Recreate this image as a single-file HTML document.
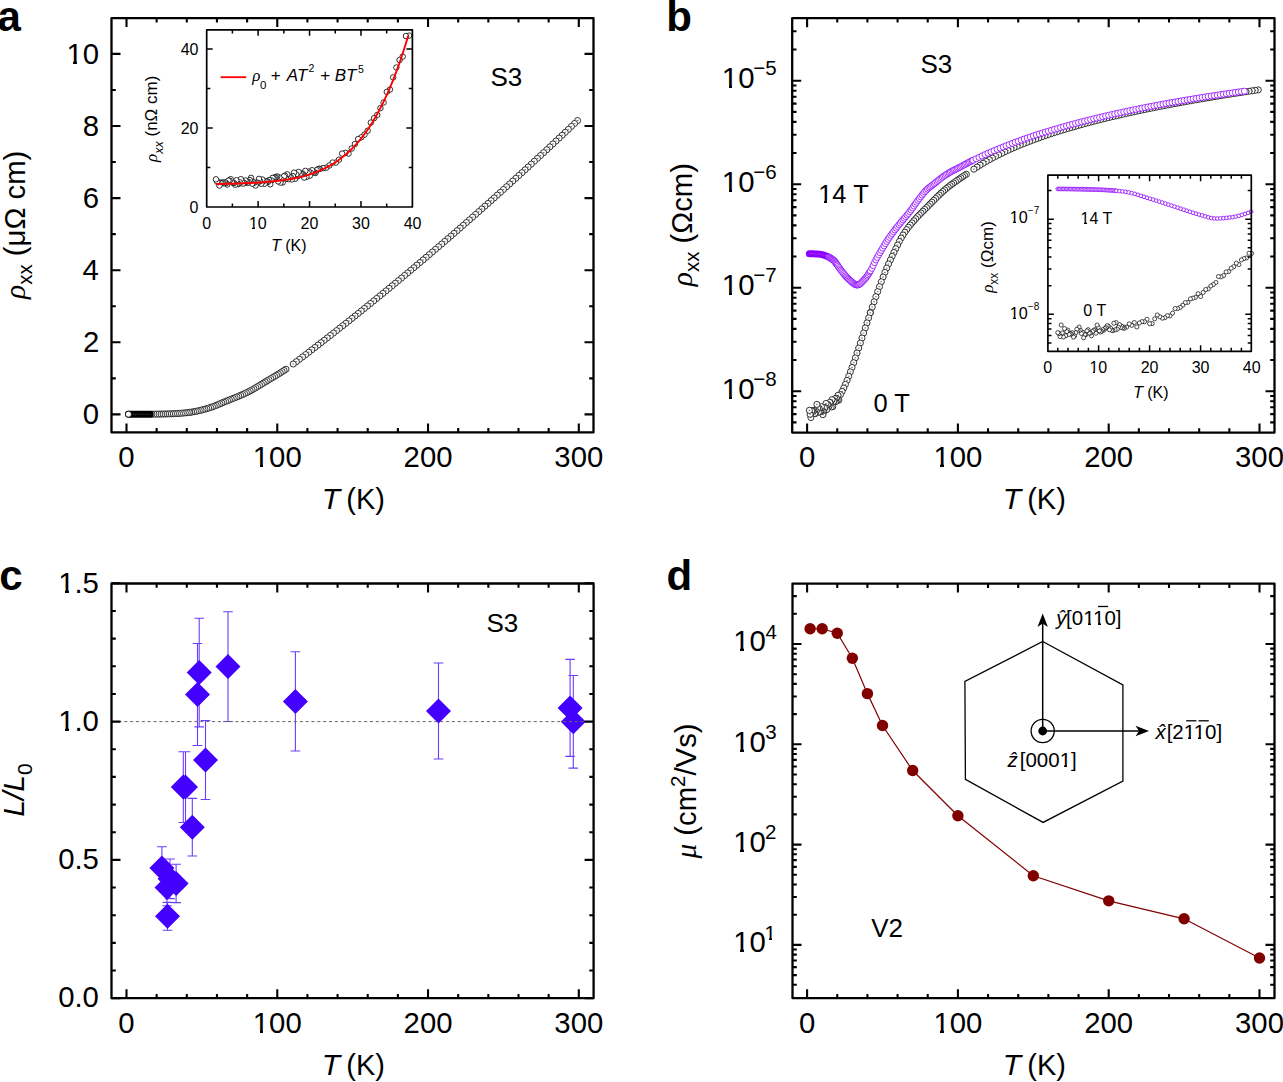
<!DOCTYPE html>
<html><head><meta charset="utf-8"><style>html,body{margin:0;padding:0;background:#fff;}svg{display:block;font-family:"Liberation Sans",sans-serif;}</style></head><body>
<svg width="1283" height="1082" viewBox="0 0 1283 1082">
<rect width="1283" height="1082" fill="#fff"/>
<text x="-2.56" y="30.6" font-size="42" font-weight="bold">a</text>
<g fill="#fff" stroke="#111" stroke-width="0.85"><circle cx="577.6" cy="120.56" r="3.05"/><path d="M576.75 120.56h1.7" stroke="#444" stroke-width="0.75"/><circle cx="574.51" cy="123.51" r="3.05"/><path d="M573.66 123.51h1.7" stroke="#444" stroke-width="0.75"/><circle cx="571.42" cy="126.46" r="3.05"/><path d="M570.57 126.46h1.7" stroke="#444" stroke-width="0.75"/><circle cx="568.33" cy="129.39" r="3.05"/><path d="M567.48 129.39h1.7" stroke="#444" stroke-width="0.75"/><circle cx="565.24" cy="132.33" r="3.05"/><path d="M564.39 132.33h1.7" stroke="#444" stroke-width="0.75"/><circle cx="562.15" cy="135.25" r="3.05"/><path d="M561.3 135.25h1.7" stroke="#444" stroke-width="0.75"/><circle cx="559.06" cy="138.17" r="3.05"/><path d="M558.21 138.17h1.7" stroke="#444" stroke-width="0.75"/><circle cx="555.97" cy="141.08" r="3.05"/><path d="M555.12 141.08h1.7" stroke="#444" stroke-width="0.75"/><circle cx="552.88" cy="143.99" r="3.05"/><path d="M552.03 143.99h1.7" stroke="#444" stroke-width="0.75"/><circle cx="549.79" cy="146.89" r="3.05"/><path d="M548.94 146.89h1.7" stroke="#444" stroke-width="0.75"/><circle cx="546.7" cy="149.78" r="3.05"/><path d="M545.85 149.78h1.7" stroke="#444" stroke-width="0.75"/><circle cx="543.61" cy="152.66" r="3.05"/><path d="M542.76 152.66h1.7" stroke="#444" stroke-width="0.75"/><circle cx="540.51" cy="155.54" r="3.05"/><path d="M539.66 155.54h1.7" stroke="#444" stroke-width="0.75"/><circle cx="537.42" cy="158.41" r="3.05"/><path d="M536.57 158.41h1.7" stroke="#444" stroke-width="0.75"/><circle cx="534.33" cy="161.28" r="3.05"/><path d="M533.48 161.28h1.7" stroke="#444" stroke-width="0.75"/><circle cx="531.24" cy="164.14" r="3.05"/><path d="M530.39 164.14h1.7" stroke="#444" stroke-width="0.75"/><circle cx="528.15" cy="166.99" r="3.05"/><path d="M527.3 166.99h1.7" stroke="#444" stroke-width="0.75"/><circle cx="525.06" cy="169.83" r="3.05"/><path d="M524.21 169.83h1.7" stroke="#444" stroke-width="0.75"/><circle cx="521.97" cy="172.67" r="3.05"/><path d="M521.12 172.67h1.7" stroke="#444" stroke-width="0.75"/><circle cx="518.88" cy="175.5" r="3.05"/><path d="M518.03 175.5h1.7" stroke="#444" stroke-width="0.75"/><circle cx="515.79" cy="178.33" r="3.05"/><path d="M514.94 178.33h1.7" stroke="#444" stroke-width="0.75"/><circle cx="512.7" cy="181.14" r="3.05"/><path d="M511.85 181.14h1.7" stroke="#444" stroke-width="0.75"/><circle cx="509.61" cy="183.96" r="3.05"/><path d="M508.76 183.96h1.7" stroke="#444" stroke-width="0.75"/><circle cx="506.52" cy="186.76" r="3.05"/><path d="M505.67 186.76h1.7" stroke="#444" stroke-width="0.75"/><circle cx="503.42" cy="189.56" r="3.05"/><path d="M502.57 189.56h1.7" stroke="#444" stroke-width="0.75"/><circle cx="500.33" cy="192.35" r="3.05"/><path d="M499.48 192.35h1.7" stroke="#444" stroke-width="0.75"/><circle cx="497.24" cy="195.13" r="3.05"/><path d="M496.39 195.13h1.7" stroke="#444" stroke-width="0.75"/><circle cx="494.15" cy="197.91" r="3.05"/><path d="M493.3 197.91h1.7" stroke="#444" stroke-width="0.75"/><circle cx="491.06" cy="200.68" r="3.05"/><path d="M490.21 200.68h1.7" stroke="#444" stroke-width="0.75"/><circle cx="487.97" cy="203.44" r="3.05"/><path d="M487.12 203.44h1.7" stroke="#444" stroke-width="0.75"/><circle cx="484.88" cy="206.2" r="3.05"/><path d="M484.03 206.2h1.7" stroke="#444" stroke-width="0.75"/><circle cx="481.79" cy="208.95" r="3.05"/><path d="M480.94 208.95h1.7" stroke="#444" stroke-width="0.75"/><circle cx="478.7" cy="211.7" r="3.05"/><path d="M477.85 211.7h1.7" stroke="#444" stroke-width="0.75"/><circle cx="475.61" cy="214.43" r="3.05"/><path d="M474.76 214.43h1.7" stroke="#444" stroke-width="0.75"/><circle cx="472.52" cy="217.16" r="3.05"/><path d="M471.67 217.16h1.7" stroke="#444" stroke-width="0.75"/><circle cx="469.43" cy="219.89" r="3.05"/><path d="M468.58 219.89h1.7" stroke="#444" stroke-width="0.75"/><circle cx="466.34" cy="222.6" r="3.05"/><path d="M465.49 222.6h1.7" stroke="#444" stroke-width="0.75"/><circle cx="463.24" cy="225.32" r="3.05"/><path d="M462.39 225.32h1.7" stroke="#444" stroke-width="0.75"/><circle cx="460.15" cy="228.02" r="3.05"/><path d="M459.3 228.02h1.7" stroke="#444" stroke-width="0.75"/><circle cx="457.06" cy="230.72" r="3.05"/><path d="M456.21 230.72h1.7" stroke="#444" stroke-width="0.75"/><circle cx="453.97" cy="233.41" r="3.05"/><path d="M453.12 233.41h1.7" stroke="#444" stroke-width="0.75"/><circle cx="450.88" cy="236.09" r="3.05"/><path d="M450.03 236.09h1.7" stroke="#444" stroke-width="0.75"/><circle cx="447.79" cy="238.77" r="3.05"/><path d="M446.94 238.77h1.7" stroke="#444" stroke-width="0.75"/><circle cx="444.7" cy="241.44" r="3.05"/><path d="M443.85 241.44h1.7" stroke="#444" stroke-width="0.75"/><circle cx="441.61" cy="244.1" r="3.05"/><path d="M440.76 244.1h1.7" stroke="#444" stroke-width="0.75"/><circle cx="438.52" cy="246.76" r="3.05"/><path d="M437.67 246.76h1.7" stroke="#444" stroke-width="0.75"/><circle cx="435.43" cy="249.4" r="3.05"/><path d="M434.58 249.4h1.7" stroke="#444" stroke-width="0.75"/><circle cx="432.34" cy="252.05" r="3.05"/><path d="M431.49 252.05h1.7" stroke="#444" stroke-width="0.75"/><circle cx="429.25" cy="254.68" r="3.05"/><path d="M428.4 254.68h1.7" stroke="#444" stroke-width="0.75"/><circle cx="426.16" cy="257.31" r="3.05"/><path d="M425.31 257.31h1.7" stroke="#444" stroke-width="0.75"/><circle cx="423.06" cy="259.94" r="3.05"/><path d="M422.21 259.94h1.7" stroke="#444" stroke-width="0.75"/><circle cx="419.97" cy="262.55" r="3.05"/><path d="M419.12 262.55h1.7" stroke="#444" stroke-width="0.75"/><circle cx="416.88" cy="265.16" r="3.05"/><path d="M416.03 265.16h1.7" stroke="#444" stroke-width="0.75"/><circle cx="413.79" cy="267.76" r="3.05"/><path d="M412.94 267.76h1.7" stroke="#444" stroke-width="0.75"/><circle cx="410.7" cy="270.36" r="3.05"/><path d="M409.85 270.36h1.7" stroke="#444" stroke-width="0.75"/><circle cx="407.61" cy="272.95" r="3.05"/><path d="M406.76 272.95h1.7" stroke="#444" stroke-width="0.75"/><circle cx="404.52" cy="275.53" r="3.05"/><path d="M403.67 275.53h1.7" stroke="#444" stroke-width="0.75"/><circle cx="401.43" cy="278.11" r="3.05"/><path d="M400.58 278.11h1.7" stroke="#444" stroke-width="0.75"/><circle cx="398.34" cy="280.68" r="3.05"/><path d="M397.49 280.68h1.7" stroke="#444" stroke-width="0.75"/><circle cx="395.25" cy="283.24" r="3.05"/><path d="M394.4 283.24h1.7" stroke="#444" stroke-width="0.75"/><circle cx="392.16" cy="285.8" r="3.05"/><path d="M391.31 285.8h1.7" stroke="#444" stroke-width="0.75"/><circle cx="389.07" cy="288.34" r="3.05"/><path d="M388.22 288.34h1.7" stroke="#444" stroke-width="0.75"/><circle cx="385.98" cy="290.89" r="3.05"/><path d="M385.13 290.89h1.7" stroke="#444" stroke-width="0.75"/><circle cx="382.88" cy="293.42" r="3.05"/><path d="M382.03 293.42h1.7" stroke="#444" stroke-width="0.75"/><circle cx="379.79" cy="295.95" r="3.05"/><path d="M378.94 295.95h1.7" stroke="#444" stroke-width="0.75"/><circle cx="376.7" cy="298.47" r="3.05"/><path d="M375.85 298.47h1.7" stroke="#444" stroke-width="0.75"/><circle cx="373.61" cy="300.99" r="3.05"/><path d="M372.76 300.99h1.7" stroke="#444" stroke-width="0.75"/><circle cx="370.52" cy="303.5" r="3.05"/><path d="M369.67 303.5h1.7" stroke="#444" stroke-width="0.75"/><circle cx="367.43" cy="306" r="3.05"/><path d="M366.58 306h1.7" stroke="#444" stroke-width="0.75"/><circle cx="364.34" cy="308.49" r="3.05"/><path d="M363.49 308.49h1.7" stroke="#444" stroke-width="0.75"/><circle cx="361.25" cy="310.98" r="3.05"/><path d="M360.4 310.98h1.7" stroke="#444" stroke-width="0.75"/><circle cx="358.16" cy="313.46" r="3.05"/><path d="M357.31 313.46h1.7" stroke="#444" stroke-width="0.75"/><circle cx="355.07" cy="315.94" r="3.05"/><path d="M354.22 315.94h1.7" stroke="#444" stroke-width="0.75"/><circle cx="351.98" cy="318.41" r="3.05"/><path d="M351.13 318.41h1.7" stroke="#444" stroke-width="0.75"/><circle cx="348.89" cy="320.87" r="3.05"/><path d="M348.04 320.87h1.7" stroke="#444" stroke-width="0.75"/><circle cx="345.79" cy="323.32" r="3.05"/><path d="M344.94 323.32h1.7" stroke="#444" stroke-width="0.75"/><circle cx="342.7" cy="325.77" r="3.05"/><path d="M341.85 325.77h1.7" stroke="#444" stroke-width="0.75"/><circle cx="339.61" cy="328.21" r="3.05"/><path d="M338.76 328.21h1.7" stroke="#444" stroke-width="0.75"/><circle cx="336.52" cy="330.65" r="3.05"/><path d="M335.67 330.65h1.7" stroke="#444" stroke-width="0.75"/><circle cx="333.43" cy="333.08" r="3.05"/><path d="M332.58 333.08h1.7" stroke="#444" stroke-width="0.75"/><circle cx="330.34" cy="335.5" r="3.05"/><path d="M329.49 335.5h1.7" stroke="#444" stroke-width="0.75"/><circle cx="327.25" cy="337.91" r="3.05"/><path d="M326.4 337.91h1.7" stroke="#444" stroke-width="0.75"/><circle cx="324.16" cy="340.32" r="3.05"/><path d="M323.31 340.32h1.7" stroke="#444" stroke-width="0.75"/><circle cx="321.07" cy="342.72" r="3.05"/><path d="M320.22 342.72h1.7" stroke="#444" stroke-width="0.75"/><circle cx="317.98" cy="345.11" r="3.05"/><path d="M317.13 345.11h1.7" stroke="#444" stroke-width="0.75"/><circle cx="314.89" cy="347.5" r="3.05"/><path d="M314.04 347.5h1.7" stroke="#444" stroke-width="0.75"/><circle cx="311.8" cy="349.88" r="3.05"/><path d="M310.95 349.88h1.7" stroke="#444" stroke-width="0.75"/><circle cx="308.71" cy="352.26" r="3.05"/><path d="M307.86 352.26h1.7" stroke="#444" stroke-width="0.75"/><circle cx="305.61" cy="354.62" r="3.05"/><path d="M304.76 354.62h1.7" stroke="#444" stroke-width="0.75"/><circle cx="302.52" cy="356.98" r="3.05"/><path d="M301.67 356.98h1.7" stroke="#444" stroke-width="0.75"/><circle cx="299.43" cy="359.34" r="3.05"/><path d="M298.58 359.34h1.7" stroke="#444" stroke-width="0.75"/><circle cx="296.34" cy="361.69" r="3.05"/><path d="M295.49 361.69h1.7" stroke="#444" stroke-width="0.75"/><circle cx="293.25" cy="364.04" r="3.05"/><path d="M292.4 364.04h1.7" stroke="#444" stroke-width="0.75"/></g>
<g fill="#fff" stroke="#111" stroke-width="0.85"><circle cx="285.94" cy="369.23" r="3.05"/><path d="M285.09 369.23h1.7" stroke="#444" stroke-width="0.75"/><circle cx="284.05" cy="370.48" r="3.05"/><path d="M283.2 370.48h1.7" stroke="#444" stroke-width="0.75"/><circle cx="282.17" cy="371.68" r="3.05"/><path d="M281.32 371.68h1.7" stroke="#444" stroke-width="0.75"/><circle cx="280.29" cy="372.87" r="3.05"/><path d="M279.44 372.87h1.7" stroke="#444" stroke-width="0.75"/><circle cx="278.4" cy="374.04" r="3.05"/><path d="M277.55 374.04h1.7" stroke="#444" stroke-width="0.75"/><circle cx="276.52" cy="375.21" r="3.05"/><path d="M275.67 375.21h1.7" stroke="#444" stroke-width="0.75"/><circle cx="274.63" cy="376.36" r="3.05"/><path d="M273.78 376.36h1.7" stroke="#444" stroke-width="0.75"/><circle cx="272.75" cy="377.48" r="3.05"/><path d="M271.9 377.48h1.7" stroke="#444" stroke-width="0.75"/><circle cx="270.86" cy="378.6" r="3.05"/><path d="M270.01 378.6h1.7" stroke="#444" stroke-width="0.75"/><circle cx="268.98" cy="379.71" r="3.05"/><path d="M268.13 379.71h1.7" stroke="#444" stroke-width="0.75"/><circle cx="267.09" cy="380.83" r="3.05"/><path d="M266.24 380.83h1.7" stroke="#444" stroke-width="0.75"/><circle cx="265.21" cy="381.95" r="3.05"/><path d="M264.36 381.95h1.7" stroke="#444" stroke-width="0.75"/><circle cx="263.32" cy="383.1" r="3.05"/><path d="M262.47 383.1h1.7" stroke="#444" stroke-width="0.75"/><circle cx="261.44" cy="384.26" r="3.05"/><path d="M260.59 384.26h1.7" stroke="#444" stroke-width="0.75"/><circle cx="259.55" cy="385.42" r="3.05"/><path d="M258.7 385.42h1.7" stroke="#444" stroke-width="0.75"/><circle cx="257.67" cy="386.56" r="3.05"/><path d="M256.82 386.56h1.7" stroke="#444" stroke-width="0.75"/><circle cx="255.79" cy="387.69" r="3.05"/><path d="M254.94 387.69h1.7" stroke="#444" stroke-width="0.75"/><circle cx="253.9" cy="388.78" r="3.05"/><path d="M253.05 388.78h1.7" stroke="#444" stroke-width="0.75"/><circle cx="252.02" cy="389.84" r="3.05"/><path d="M251.17 389.84h1.7" stroke="#444" stroke-width="0.75"/><circle cx="250.13" cy="390.87" r="3.05"/><path d="M249.28 390.87h1.7" stroke="#444" stroke-width="0.75"/><circle cx="248.25" cy="391.85" r="3.05"/><path d="M247.4 391.85h1.7" stroke="#444" stroke-width="0.75"/><circle cx="246.36" cy="392.78" r="3.05"/><path d="M245.51 392.78h1.7" stroke="#444" stroke-width="0.75"/><circle cx="244.48" cy="393.66" r="3.05"/><path d="M243.63 393.66h1.7" stroke="#444" stroke-width="0.75"/><circle cx="242.59" cy="394.51" r="3.05"/><path d="M241.74 394.51h1.7" stroke="#444" stroke-width="0.75"/><circle cx="240.71" cy="395.32" r="3.05"/><path d="M239.86 395.32h1.7" stroke="#444" stroke-width="0.75"/><circle cx="238.82" cy="396.12" r="3.05"/><path d="M237.97 396.12h1.7" stroke="#444" stroke-width="0.75"/><circle cx="236.94" cy="396.9" r="3.05"/><path d="M236.09 396.9h1.7" stroke="#444" stroke-width="0.75"/><circle cx="235.05" cy="397.67" r="3.05"/><path d="M234.2 397.67h1.7" stroke="#444" stroke-width="0.75"/><circle cx="233.17" cy="398.44" r="3.05"/><path d="M232.32 398.44h1.7" stroke="#444" stroke-width="0.75"/><circle cx="231.29" cy="399.2" r="3.05"/><path d="M230.44 399.2h1.7" stroke="#444" stroke-width="0.75"/><circle cx="229.4" cy="399.95" r="3.05"/><path d="M228.55 399.95h1.7" stroke="#444" stroke-width="0.75"/><circle cx="227.52" cy="400.69" r="3.05"/><path d="M226.67 400.69h1.7" stroke="#444" stroke-width="0.75"/><circle cx="225.63" cy="401.44" r="3.05"/><path d="M224.78 401.44h1.7" stroke="#444" stroke-width="0.75"/><circle cx="223.75" cy="402.19" r="3.05"/><path d="M222.9 402.19h1.7" stroke="#444" stroke-width="0.75"/><circle cx="221.86" cy="402.98" r="3.05"/><path d="M221.01 402.98h1.7" stroke="#444" stroke-width="0.75"/><circle cx="219.98" cy="403.79" r="3.05"/><path d="M219.13 403.79h1.7" stroke="#444" stroke-width="0.75"/><circle cx="218.09" cy="404.61" r="3.05"/><path d="M217.24 404.61h1.7" stroke="#444" stroke-width="0.75"/><circle cx="216.21" cy="405.4" r="3.05"/><path d="M215.36 405.4h1.7" stroke="#444" stroke-width="0.75"/><circle cx="214.32" cy="406.14" r="3.05"/><path d="M213.47 406.14h1.7" stroke="#444" stroke-width="0.75"/><circle cx="212.44" cy="406.83" r="3.05"/><path d="M211.59 406.83h1.7" stroke="#444" stroke-width="0.75"/><circle cx="210.55" cy="407.46" r="3.05"/><path d="M209.7 407.46h1.7" stroke="#444" stroke-width="0.75"/><circle cx="208.67" cy="408.06" r="3.05"/><path d="M207.82 408.06h1.7" stroke="#444" stroke-width="0.75"/><circle cx="206.79" cy="408.63" r="3.05"/><path d="M205.94 408.63h1.7" stroke="#444" stroke-width="0.75"/><circle cx="204.9" cy="409.17" r="3.05"/><path d="M204.05 409.17h1.7" stroke="#444" stroke-width="0.75"/><circle cx="203.02" cy="409.69" r="3.05"/><path d="M202.17 409.69h1.7" stroke="#444" stroke-width="0.75"/><circle cx="201.13" cy="410.17" r="3.05"/><path d="M200.28 410.17h1.7" stroke="#444" stroke-width="0.75"/><circle cx="199.25" cy="410.62" r="3.05"/><path d="M198.4 410.62h1.7" stroke="#444" stroke-width="0.75"/><circle cx="197.36" cy="411.04" r="3.05"/><path d="M196.51 411.04h1.7" stroke="#444" stroke-width="0.75"/><circle cx="195.48" cy="411.41" r="3.05"/><path d="M194.63 411.41h1.7" stroke="#444" stroke-width="0.75"/><circle cx="193.59" cy="411.74" r="3.05"/><path d="M192.74 411.74h1.7" stroke="#444" stroke-width="0.75"/><circle cx="191.71" cy="412.05" r="3.05"/><path d="M190.86 412.05h1.7" stroke="#444" stroke-width="0.75"/><circle cx="189.82" cy="412.32" r="3.05"/><path d="M188.97 412.32h1.7" stroke="#444" stroke-width="0.75"/><circle cx="189.22" cy="412.4" r="3.05"/><path d="M188.37 412.4h1.7" stroke="#444" stroke-width="0.75"/><circle cx="187.26" cy="412.65" r="3.05"/><path d="M186.41 412.65h1.7" stroke="#444" stroke-width="0.75"/><circle cx="185.3" cy="412.87" r="3.05"/><path d="M184.45 412.87h1.7" stroke="#444" stroke-width="0.75"/><circle cx="183.34" cy="413.06" r="3.05"/><path d="M182.49 413.06h1.7" stroke="#444" stroke-width="0.75"/><circle cx="181.38" cy="413.22" r="3.05"/><path d="M180.53 413.22h1.7" stroke="#444" stroke-width="0.75"/><circle cx="179.42" cy="413.37" r="3.05"/><path d="M178.57 413.37h1.7" stroke="#444" stroke-width="0.75"/><circle cx="177.46" cy="413.5" r="3.05"/><path d="M176.61 413.5h1.7" stroke="#444" stroke-width="0.75"/><circle cx="175.5" cy="413.61" r="3.05"/><path d="M174.65 413.61h1.7" stroke="#444" stroke-width="0.75"/><circle cx="173.54" cy="413.7" r="3.05"/><path d="M172.69 413.7h1.7" stroke="#444" stroke-width="0.75"/><circle cx="171.58" cy="413.78" r="3.05"/><path d="M170.73 413.78h1.7" stroke="#444" stroke-width="0.75"/><circle cx="169.62" cy="413.85" r="3.05"/><path d="M168.77 413.85h1.7" stroke="#444" stroke-width="0.75"/><circle cx="167.66" cy="413.91" r="3.05"/><path d="M166.81 413.91h1.7" stroke="#444" stroke-width="0.75"/><circle cx="165.7" cy="413.96" r="3.05"/><path d="M164.85 413.96h1.7" stroke="#444" stroke-width="0.75"/><circle cx="163.74" cy="414" r="3.05"/><path d="M162.89 414h1.7" stroke="#444" stroke-width="0.75"/><circle cx="161.78" cy="414.04" r="3.05"/><path d="M160.93 414.04h1.7" stroke="#444" stroke-width="0.75"/><circle cx="159.82" cy="414.07" r="3.05"/><path d="M158.97 414.07h1.7" stroke="#444" stroke-width="0.75"/><circle cx="157.86" cy="414.09" r="3.05"/><path d="M157.01 414.09h1.7" stroke="#444" stroke-width="0.75"/><circle cx="155.9" cy="414.11" r="3.05"/><path d="M155.05 414.11h1.7" stroke="#444" stroke-width="0.75"/><circle cx="153.94" cy="414.13" r="3.05"/><path d="M153.09 414.13h1.7" stroke="#444" stroke-width="0.75"/><circle cx="151.98" cy="414.14" r="3.05"/><path d="M151.13 414.14h1.7" stroke="#444" stroke-width="0.75"/></g>
<polyline points="128.46,414.19 128.84,414.19 129.21,414.19 129.59,414.19 129.97,414.19 130.34,414.19 130.72,414.19 131.1,414.19 131.48,414.19 131.85,414.19 132.23,414.19 132.61,414.19 132.98,414.19 133.36,414.19 133.74,414.19 134.11,414.19 134.49,414.19 134.87,414.19 135.24,414.19 135.62,414.19 136,414.19 136.38,414.19 136.75,414.18 137.13,414.18 137.51,414.18 137.88,414.18 138.26,414.18 138.64,414.18 139.01,414.18 139.39,414.18 139.77,414.18 140.14,414.18 140.52,414.18 140.9,414.18 141.28,414.18 141.65,414.18 142.03,414.18 142.41,414.18 142.78,414.17 143.16,414.17 143.54,414.17 143.91,414.17 144.29,414.17 144.67,414.17 145.04,414.17 145.42,414.17 145.8,414.17 146.18,414.17 146.55,414.16 146.93,414.16 147.31,414.16 147.68,414.16 148.06,414.16 148.44,414.16 148.81,414.16 149.19,414.15 149.57,414.15 149.94,414.15 150.32,414.15" fill="none" stroke="#000" stroke-width="6.95" stroke-linecap="round" stroke-linejoin="round"/>
<polyline points="128.84,414.19 129.21,414.19 129.59,414.19 129.97,414.19 130.34,414.19 130.72,414.19 131.1,414.19 131.48,414.19 131.85,414.19 132.23,414.19 132.61,414.19 132.98,414.19 133.36,414.19 133.74,414.19 134.11,414.19 134.49,414.19 134.87,414.19 135.24,414.19 135.62,414.19 136,414.19 136.38,414.19 136.75,414.18 137.13,414.18 137.51,414.18 137.88,414.18 138.26,414.18 138.64,414.18 139.01,414.18 139.39,414.18 139.77,414.18 140.14,414.18 140.52,414.18 140.9,414.18 141.28,414.18 141.65,414.18 142.03,414.18 142.41,414.18 142.78,414.17 143.16,414.17 143.54,414.17 143.91,414.17 144.29,414.17 144.67,414.17 145.04,414.17 145.42,414.17 145.8,414.17 146.18,414.17 146.55,414.16 146.93,414.16 147.31,414.16 147.68,414.16 148.06,414.16 148.44,414.16 148.81,414.16 149.19,414.15 149.57,414.15 149.94,414.15 150.32,414.15" fill="none" stroke="#fff" stroke-opacity="0.75" stroke-width="0.6" stroke-dasharray="0.7 1.3"/>
<g fill="#fff" stroke="#000" stroke-width="0.85"><circle cx="128.46" cy="414.19" r="3.05"/></g>
<path d="M126.5 432.4V423.4M126.5 18.1V27.1M277.27 432.4V423.4M277.27 18.1V27.1M428.04 432.4V423.4M428.04 18.1V27.1M578.81 432.4V423.4M578.81 18.1V27.1M156.65 432.4V428.1M156.65 18.1V22.4M186.81 432.4V428.1M186.81 18.1V22.4M216.96 432.4V428.1M216.96 18.1V22.4M247.12 432.4V428.1M247.12 18.1V22.4M307.42 432.4V428.1M307.42 18.1V22.4M337.58 432.4V428.1M337.58 18.1V22.4M367.73 432.4V428.1M367.73 18.1V22.4M397.89 432.4V428.1M397.89 18.1V22.4M458.19 432.4V428.1M458.19 18.1V22.4M488.35 432.4V428.1M488.35 18.1V22.4M518.5 432.4V428.1M518.5 18.1V22.4M548.66 432.4V428.1M548.66 18.1V22.4M111.5 414.4H120.5M593.5 414.4H584.5M111.5 342.3H120.5M593.5 342.3H584.5M111.5 270.2H120.5M593.5 270.2H584.5M111.5 198.1H120.5M593.5 198.1H584.5M111.5 126H120.5M593.5 126H584.5M111.5 53.9H120.5M593.5 53.9H584.5M111.5 378.35H115.8M593.5 378.35H589.2M111.5 306.25H115.8M593.5 306.25H589.2M111.5 234.15H115.8M593.5 234.15H589.2M111.5 162.05H115.8M593.5 162.05H589.2M111.5 89.95H115.8M593.5 89.95H589.2" stroke="#000" stroke-width="2.1" fill="none"/>
<rect x="111.5" y="18.1" width="482" height="414.3" fill="none" stroke="#000" stroke-width="2.3" stroke-linejoin="round"/>
<text x="118.35" y="466.9" font-size="29.3">0</text>
<text x="252.83" y="466.9" font-size="29.3">100</text>
<g fill="#fff" shape-rendering="crispEdges"><rect x="253.85" y="463.86" width="5.84" height="3.94"/><rect x="263.28" y="463.86" width="5.22" height="3.94"/></g>
<text x="403.6" y="466.9" font-size="29.3">200</text>
<text x="554.37" y="466.9" font-size="29.3">300</text>
<text x="82.71" y="424" font-size="29.3">0</text>
<text x="83" y="351.9" font-size="29.3">2</text>
<text x="82.42" y="279.8" font-size="29.3">4</text>
<text x="82.86" y="207.7" font-size="29.3">6</text>
<text x="82.71" y="135.6" font-size="29.3">8</text>
<text x="66.45" y="63.5" font-size="29.3">10</text>
<g fill="#fff" shape-rendering="crispEdges"><rect x="67.47" y="60.46" width="5.84" height="3.94"/><rect x="76.91" y="60.46" width="5.22" height="3.94"/></g>
<text x="490.43" y="85.5" font-size="26">S3</text>
<text x="321.8" y="509" font-size="30" font-style="italic">T</text>
<text x="346.36" y="509" font-size="29">(K)</text>
<g transform="translate(25,224.8) rotate(-90)"><text x="0" y="0" font-size="29.3" text-anchor="middle"><tspan font-family='"Liberation Serif", serif' font-style="italic">ρ</tspan><tspan font-size="20.5" dy="7">xx</tspan><tspan dy="-7"> (μΩ cm)</tspan></text></g>
<rect x="206.7" y="29.8" width="205.7" height="177.2" fill="#fff"/>
<g fill="#fff" stroke="#000" stroke-width="0.8"><circle cx="409.11" cy="35.6" r="2.75"/><circle cx="405.92" cy="36.06" r="2.75"/><circle cx="402.73" cy="56.58" r="2.75"/><circle cx="399.54" cy="60.02" r="2.75"/><circle cx="396.36" cy="67.51" r="2.75"/><circle cx="393.17" cy="77.42" r="2.75"/><circle cx="389.98" cy="89.54" r="2.75"/><circle cx="386.79" cy="91.9" r="2.75"/><circle cx="383.6" cy="102.49" r="2.75"/><circle cx="380.41" cy="108.1" r="2.75"/><circle cx="377.23" cy="114.93" r="2.75"/><circle cx="374.04" cy="118.21" r="2.75"/><circle cx="370.85" cy="122.6" r="2.75"/><circle cx="367.66" cy="130.72" r="2.75"/><circle cx="364.47" cy="134.66" r="2.75"/><circle cx="361.28" cy="137.33" r="2.75"/><circle cx="358.1" cy="139.07" r="2.75"/><circle cx="354.91" cy="144.02" r="2.75"/><circle cx="351.72" cy="148.51" r="2.75"/><circle cx="348.53" cy="153.59" r="2.75"/><circle cx="345.34" cy="152.87" r="2.75"/><circle cx="342.15" cy="153.6" r="2.75"/><circle cx="338.97" cy="159.68" r="2.75"/><circle cx="335.78" cy="162.62" r="2.75"/><circle cx="332.59" cy="162.59" r="2.75"/><circle cx="329.4" cy="165.47" r="2.75"/><circle cx="326.21" cy="167.73" r="2.75"/><circle cx="323.02" cy="168.16" r="2.75"/><circle cx="319.83" cy="168.93" r="2.75"/><circle cx="318.91" cy="168.82" r="2.75"/><circle cx="317.78" cy="169.39" r="2.75"/><circle cx="316.65" cy="170.29" r="2.75"/><circle cx="315.52" cy="172.91" r="2.75"/><circle cx="314.38" cy="172.38" r="2.75"/><circle cx="313.25" cy="172.64" r="2.75"/><circle cx="312.12" cy="170.19" r="2.75"/><circle cx="310.99" cy="173.01" r="2.75"/><circle cx="309.86" cy="175.67" r="2.75"/><circle cx="308.73" cy="171.63" r="2.75"/><circle cx="307.6" cy="172.87" r="2.75"/><circle cx="306.46" cy="176.96" r="2.75"/><circle cx="305.33" cy="170.88" r="2.75"/><circle cx="304.2" cy="177.58" r="2.75"/><circle cx="303.07" cy="174.13" r="2.75"/><circle cx="301.94" cy="173.55" r="2.75"/><circle cx="300.81" cy="173.77" r="2.75"/><circle cx="299.68" cy="174.47" r="2.75"/><circle cx="298.55" cy="171.93" r="2.75"/><circle cx="297.41" cy="176.39" r="2.75"/><circle cx="296.28" cy="174.36" r="2.75"/><circle cx="295.15" cy="178.72" r="2.75"/><circle cx="294.02" cy="172.65" r="2.75"/><circle cx="292.89" cy="176.06" r="2.75"/><circle cx="291.76" cy="179.41" r="2.75"/><circle cx="290.63" cy="177.08" r="2.75"/><circle cx="289.49" cy="177.28" r="2.75"/><circle cx="288.36" cy="179.16" r="2.75"/><circle cx="287.23" cy="174.36" r="2.75"/><circle cx="286.1" cy="178.54" r="2.75"/><circle cx="284.97" cy="175.64" r="2.75"/><circle cx="283.84" cy="176.39" r="2.75"/><circle cx="282.71" cy="182.44" r="2.75"/><circle cx="281.57" cy="179.98" r="2.75"/><circle cx="280.44" cy="182.6" r="2.75"/><circle cx="279.31" cy="177.43" r="2.75"/><circle cx="278.18" cy="181.4" r="2.75"/><circle cx="277.05" cy="176.48" r="2.75"/><circle cx="275.92" cy="177.33" r="2.75"/><circle cx="274.79" cy="177.49" r="2.75"/><circle cx="273.66" cy="178.1" r="2.75"/><circle cx="272.52" cy="177.92" r="2.75"/><circle cx="271.39" cy="180.46" r="2.75"/><circle cx="270.26" cy="184.3" r="2.75"/><circle cx="269.13" cy="180.11" r="2.75"/><circle cx="268" cy="181.9" r="2.75"/><circle cx="266.87" cy="181.46" r="2.75"/><circle cx="265.74" cy="181.57" r="2.75"/><circle cx="264.6" cy="183.78" r="2.75"/><circle cx="263.47" cy="181.29" r="2.75"/><circle cx="262.34" cy="179.53" r="2.75"/><circle cx="261.21" cy="183.78" r="2.75"/><circle cx="260.08" cy="181.12" r="2.75"/><circle cx="258.95" cy="178.9" r="2.75"/><circle cx="257.82" cy="182.89" r="2.75"/><circle cx="256.69" cy="182.77" r="2.75"/><circle cx="255.55" cy="185.54" r="2.75"/><circle cx="254.42" cy="182.68" r="2.75"/><circle cx="253.29" cy="182.42" r="2.75"/><circle cx="252.16" cy="183.58" r="2.75"/><circle cx="251.03" cy="177.87" r="2.75"/><circle cx="249.9" cy="180.13" r="2.75"/><circle cx="248.77" cy="181.93" r="2.75"/><circle cx="247.63" cy="182.94" r="2.75"/><circle cx="246.5" cy="181.91" r="2.75"/><circle cx="245.37" cy="180.56" r="2.75"/><circle cx="244.24" cy="182.98" r="2.75"/><circle cx="243.11" cy="183.57" r="2.75"/><circle cx="241.98" cy="181.39" r="2.75"/><circle cx="240.85" cy="179.23" r="2.75"/><circle cx="239.71" cy="182.25" r="2.75"/><circle cx="238.58" cy="184" r="2.75"/><circle cx="237.45" cy="183.89" r="2.75"/><circle cx="236.32" cy="180.28" r="2.75"/><circle cx="235.19" cy="184.73" r="2.75"/><circle cx="234.06" cy="183.01" r="2.75"/><circle cx="232.93" cy="182.8" r="2.75"/><circle cx="231.8" cy="182.03" r="2.75"/><circle cx="230.66" cy="179.17" r="2.75"/><circle cx="229.53" cy="180.64" r="2.75"/><circle cx="228.4" cy="180.66" r="2.75"/><circle cx="227.27" cy="184.5" r="2.75"/><circle cx="226.14" cy="183.07" r="2.75"/><circle cx="225.01" cy="182.34" r="2.75"/><circle cx="223.88" cy="183.37" r="2.75"/><circle cx="222.74" cy="182.45" r="2.75"/><circle cx="221.61" cy="182.94" r="2.75"/><circle cx="220.48" cy="182.82" r="2.75"/><circle cx="219.35" cy="185.57" r="2.75"/><circle cx="218.22" cy="182.2" r="2.75"/><circle cx="217.09" cy="181.63" r="2.75"/><circle cx="215.96" cy="179.31" r="2.75"/></g>
<polyline points="215.96,183.97 217.24,183.96 218.53,183.94 219.81,183.93 221.1,183.91 222.38,183.89 223.67,183.87 224.96,183.85 226.24,183.82 227.53,183.8 228.81,183.77 230.1,183.74 231.38,183.71 232.67,183.68 233.96,183.64 235.24,183.61 236.53,183.57 237.81,183.53 239.1,183.49 240.38,183.44 241.67,183.4 242.95,183.35 244.24,183.3 245.53,183.24 246.81,183.19 248.1,183.13 249.38,183.07 250.67,183.01 251.95,182.94 253.24,182.87 254.53,182.8 255.81,182.73 257.1,182.65 258.38,182.57 259.67,182.49 260.95,182.4 262.24,182.31 263.52,182.21 264.81,182.11 266.1,182.01 267.38,181.9 268.67,181.79 269.95,181.67 271.24,181.55 272.52,181.43 273.81,181.29 275.1,181.16 276.38,181.01 277.67,180.87 278.95,180.71 280.24,180.55 281.52,180.38 282.81,180.21 284.09,180.02 285.38,179.83 286.67,179.64 287.95,179.43 289.24,179.22 290.52,178.99 291.81,178.76 293.09,178.52 294.38,178.27 295.67,178.01 296.95,177.73 298.24,177.45 299.52,177.15 300.81,176.85 302.09,176.53 303.38,176.2 304.66,175.85 305.95,175.49 307.24,175.12 308.52,174.73 309.81,174.33 311.09,173.91 312.38,173.48 313.66,173.03 314.95,172.56 316.24,172.07 317.52,171.57 318.81,171.05 320.09,170.5 321.38,169.94 322.66,169.36 323.95,168.75 325.23,168.12 326.52,167.47 327.81,166.8 329.09,166.1 330.38,165.38 331.66,164.63 332.95,163.85 334.23,163.05 335.52,162.21 336.81,161.35 338.09,160.46 339.38,159.54 340.66,158.59 341.95,157.6 343.23,156.59 344.52,155.53 345.8,154.45 347.09,153.32 348.38,152.16 349.66,150.96 350.95,149.73 352.23,148.45 353.52,147.13 354.8,145.77 356.09,144.37 357.38,142.92 358.66,141.43 359.95,139.89 361.23,138.3 362.52,136.66 363.8,134.98 365.09,133.24 366.37,131.45 367.66,129.61 368.95,127.71 370.23,125.75 371.52,123.74 372.8,121.67 374.09,119.54 375.37,117.34 376.66,115.09 377.95,112.77 379.23,110.38 380.52,107.93 381.8,105.41 383.09,102.81 384.37,100.15 385.66,97.41 386.94,94.6 388.23,91.71 389.52,88.74 390.8,85.7 392.09,82.57 393.37,79.36 394.66,76.06 395.94,72.68 397.23,69.2 398.52,65.64 399.8,61.99 401.09,58.24 402.37,54.4 403.66,50.46 404.94,46.42 406.23,42.28 407.51,38.04 408.29,35.44" fill="none" stroke="#f00" stroke-width="1.9"/>
<path d="M258.12 207V201M258.12 29.8V35.8M309.55 207V201M309.55 29.8V35.8M360.98 207V201M360.98 29.8V35.8M232.41 207V203.4M232.41 29.8V33.4M283.84 207V203.4M283.84 29.8V33.4M335.26 207V203.4M335.26 29.8V33.4M386.69 207V203.4M386.69 29.8V33.4M206.7 128H212.7M412.4 128H406.4M206.7 49H212.7M412.4 49H406.4M206.7 167.5H210.3M412.4 167.5H408.8M206.7 88.5H210.3M412.4 88.5H408.8" stroke="#000" stroke-width="1.5" fill="none"/>
<rect x="206.7" y="29.8" width="205.7" height="177.2" fill="none" stroke="#000" stroke-width="1.7" stroke-linejoin="round"/>
<text x="202.26" y="229.3" font-size="16">0</text>
<text x="248.97" y="229.3" font-size="16">10</text>
<g fill="#fff" shape-rendering="crispEdges"><rect x="249.53" y="227.25" width="2.96" height="2.95"/><rect x="254.9" y="227.25" width="2.62" height="2.95"/></g>
<text x="300.59" y="229.3" font-size="16">20</text>
<text x="352.1" y="229.3" font-size="16">30</text>
<text x="403.64" y="229.3" font-size="16">40</text>
<text x="189.56" y="212.6" font-size="16">0</text>
<text x="180.68" y="133.6" font-size="16">20</text>
<text x="180.68" y="54.6" font-size="16">40</text>
<text x="271.12" y="251" font-size="16.5" font-style="italic">T</text>
<text x="285.24" y="251" font-size="16">(K)</text>
<g transform="translate(157,118.8) rotate(-90)"><text x="0" y="0" font-size="17" text-anchor="middle"><tspan font-family='"Liberation Serif", serif' font-style="italic">ρ</tspan><tspan font-size="12.5" dy="5.5" font-style="italic">xx</tspan><tspan dy="-5.5"> (nΩ cm)</tspan></text></g>
<line x1="220.6" y1="77.2" x2="246.2" y2="77.2" stroke="#f00" stroke-width="1.8"/>
<text x="252.23" y="80.6" font-size="17" font-family='"Liberation Serif", serif' font-style="italic">ρ</text>
<text x="260.04" y="88.9" font-size="11.5">0</text>
<text x="270.85" y="80.6" font-size="17">+</text>
<text x="286.85" y="80.6" font-size="17" font-style="italic">AT</text>
<text x="308.58" y="71.8" font-size="10.5">2</text>
<text x="320.15" y="80.6" font-size="17">+</text>
<text x="334.79" y="80.6" font-size="17" font-style="italic">BT</text>
<text x="357.98" y="72.5" font-size="10.5">5</text>
<text x="666.17" y="30.9" font-size="42" font-weight="bold">b</text>
<g fill="#fff" stroke="#111" stroke-width="0.85"><circle cx="1258.29" cy="89.89" r="3.05"/><path d="M1257.44 89.89h1.7" stroke="#444" stroke-width="0.75"/><circle cx="1255.2" cy="90.34" r="3.05"/><path d="M1254.35 90.34h1.7" stroke="#444" stroke-width="0.75"/><circle cx="1252.11" cy="90.8" r="3.05"/><path d="M1251.26 90.8h1.7" stroke="#444" stroke-width="0.75"/><circle cx="1249.02" cy="91.26" r="3.05"/><path d="M1248.17 91.26h1.7" stroke="#444" stroke-width="0.75"/><circle cx="1245.93" cy="91.73" r="3.05"/><path d="M1245.08 91.73h1.7" stroke="#444" stroke-width="0.75"/><circle cx="1242.84" cy="92.2" r="3.05"/><path d="M1241.99 92.2h1.7" stroke="#444" stroke-width="0.75"/><circle cx="1239.75" cy="92.67" r="3.05"/><path d="M1238.9 92.67h1.7" stroke="#444" stroke-width="0.75"/><circle cx="1236.65" cy="93.14" r="3.05"/><path d="M1235.8 93.14h1.7" stroke="#444" stroke-width="0.75"/><circle cx="1233.56" cy="93.63" r="3.05"/><path d="M1232.71 93.63h1.7" stroke="#444" stroke-width="0.75"/><circle cx="1230.47" cy="94.11" r="3.05"/><path d="M1229.62 94.11h1.7" stroke="#444" stroke-width="0.75"/><circle cx="1227.38" cy="94.6" r="3.05"/><path d="M1226.53 94.6h1.7" stroke="#444" stroke-width="0.75"/><circle cx="1224.29" cy="95.09" r="3.05"/><path d="M1223.44 95.09h1.7" stroke="#444" stroke-width="0.75"/><circle cx="1221.2" cy="95.59" r="3.05"/><path d="M1220.35 95.59h1.7" stroke="#444" stroke-width="0.75"/><circle cx="1218.11" cy="96.09" r="3.05"/><path d="M1217.26 96.09h1.7" stroke="#444" stroke-width="0.75"/><circle cx="1215.01" cy="96.6" r="3.05"/><path d="M1214.16 96.6h1.7" stroke="#444" stroke-width="0.75"/><circle cx="1211.92" cy="97.11" r="3.05"/><path d="M1211.07 97.11h1.7" stroke="#444" stroke-width="0.75"/><circle cx="1208.83" cy="97.62" r="3.05"/><path d="M1207.98 97.62h1.7" stroke="#444" stroke-width="0.75"/><circle cx="1205.74" cy="98.14" r="3.05"/><path d="M1204.89 98.14h1.7" stroke="#444" stroke-width="0.75"/><circle cx="1202.65" cy="98.67" r="3.05"/><path d="M1201.8 98.67h1.7" stroke="#444" stroke-width="0.75"/><circle cx="1199.56" cy="99.19" r="3.05"/><path d="M1198.71 99.19h1.7" stroke="#444" stroke-width="0.75"/><circle cx="1196.47" cy="99.73" r="3.05"/><path d="M1195.62 99.73h1.7" stroke="#444" stroke-width="0.75"/><circle cx="1193.37" cy="100.27" r="3.05"/><path d="M1192.52 100.27h1.7" stroke="#444" stroke-width="0.75"/><circle cx="1190.28" cy="100.81" r="3.05"/><path d="M1189.43 100.81h1.7" stroke="#444" stroke-width="0.75"/><circle cx="1187.19" cy="101.36" r="3.05"/><path d="M1186.34 101.36h1.7" stroke="#444" stroke-width="0.75"/><circle cx="1184.1" cy="101.92" r="3.05"/><path d="M1183.25 101.92h1.7" stroke="#444" stroke-width="0.75"/><circle cx="1181.01" cy="102.48" r="3.05"/><path d="M1180.16 102.48h1.7" stroke="#444" stroke-width="0.75"/><circle cx="1177.92" cy="103.05" r="3.05"/><path d="M1177.07 103.05h1.7" stroke="#444" stroke-width="0.75"/><circle cx="1174.83" cy="103.62" r="3.05"/><path d="M1173.98 103.62h1.7" stroke="#444" stroke-width="0.75"/><circle cx="1171.73" cy="104.2" r="3.05"/><path d="M1170.88 104.2h1.7" stroke="#444" stroke-width="0.75"/><circle cx="1168.64" cy="104.79" r="3.05"/><path d="M1167.79 104.79h1.7" stroke="#444" stroke-width="0.75"/><circle cx="1165.55" cy="105.38" r="3.05"/><path d="M1164.7 105.38h1.7" stroke="#444" stroke-width="0.75"/><circle cx="1162.46" cy="105.98" r="3.05"/><path d="M1161.61 105.98h1.7" stroke="#444" stroke-width="0.75"/><circle cx="1159.37" cy="106.58" r="3.05"/><path d="M1158.52 106.58h1.7" stroke="#444" stroke-width="0.75"/><circle cx="1156.28" cy="107.19" r="3.05"/><path d="M1155.43 107.19h1.7" stroke="#444" stroke-width="0.75"/><circle cx="1153.19" cy="107.81" r="3.05"/><path d="M1152.34 107.81h1.7" stroke="#444" stroke-width="0.75"/><circle cx="1150.09" cy="108.43" r="3.05"/><path d="M1149.24 108.43h1.7" stroke="#444" stroke-width="0.75"/><circle cx="1147" cy="109.07" r="3.05"/><path d="M1146.15 109.07h1.7" stroke="#444" stroke-width="0.75"/><circle cx="1143.91" cy="109.71" r="3.05"/><path d="M1143.06 109.71h1.7" stroke="#444" stroke-width="0.75"/><circle cx="1140.82" cy="110.35" r="3.05"/><path d="M1139.97 110.35h1.7" stroke="#444" stroke-width="0.75"/><circle cx="1137.73" cy="111.01" r="3.05"/><path d="M1136.88 111.01h1.7" stroke="#444" stroke-width="0.75"/><circle cx="1134.64" cy="111.67" r="3.05"/><path d="M1133.79 111.67h1.7" stroke="#444" stroke-width="0.75"/><circle cx="1131.55" cy="112.34" r="3.05"/><path d="M1130.7 112.34h1.7" stroke="#444" stroke-width="0.75"/><circle cx="1128.45" cy="113.02" r="3.05"/><path d="M1127.6 113.02h1.7" stroke="#444" stroke-width="0.75"/><circle cx="1125.36" cy="113.71" r="3.05"/><path d="M1124.51 113.71h1.7" stroke="#444" stroke-width="0.75"/><circle cx="1122.27" cy="114.41" r="3.05"/><path d="M1121.42 114.41h1.7" stroke="#444" stroke-width="0.75"/><circle cx="1119.18" cy="115.12" r="3.05"/><path d="M1118.33 115.12h1.7" stroke="#444" stroke-width="0.75"/><circle cx="1116.09" cy="115.83" r="3.05"/><path d="M1115.24 115.83h1.7" stroke="#444" stroke-width="0.75"/><circle cx="1113" cy="116.56" r="3.05"/><path d="M1112.15 116.56h1.7" stroke="#444" stroke-width="0.75"/><circle cx="1109.91" cy="117.29" r="3.05"/><path d="M1109.06 117.29h1.7" stroke="#444" stroke-width="0.75"/><circle cx="1106.81" cy="118.04" r="3.05"/><path d="M1105.96 118.04h1.7" stroke="#444" stroke-width="0.75"/><circle cx="1103.72" cy="118.8" r="3.05"/><path d="M1102.87 118.8h1.7" stroke="#444" stroke-width="0.75"/><circle cx="1100.63" cy="119.56" r="3.05"/><path d="M1099.78 119.56h1.7" stroke="#444" stroke-width="0.75"/><circle cx="1097.54" cy="120.34" r="3.05"/><path d="M1096.69 120.34h1.7" stroke="#444" stroke-width="0.75"/><circle cx="1094.45" cy="121.13" r="3.05"/><path d="M1093.6 121.13h1.7" stroke="#444" stroke-width="0.75"/><circle cx="1091.36" cy="121.94" r="3.05"/><path d="M1090.51 121.94h1.7" stroke="#444" stroke-width="0.75"/><circle cx="1088.27" cy="122.75" r="3.05"/><path d="M1087.42 122.75h1.7" stroke="#444" stroke-width="0.75"/><circle cx="1085.18" cy="123.58" r="3.05"/><path d="M1084.33 123.58h1.7" stroke="#444" stroke-width="0.75"/><circle cx="1082.08" cy="124.42" r="3.05"/><path d="M1081.23 124.42h1.7" stroke="#444" stroke-width="0.75"/><circle cx="1078.99" cy="125.28" r="3.05"/><path d="M1078.14 125.28h1.7" stroke="#444" stroke-width="0.75"/><circle cx="1075.9" cy="126.15" r="3.05"/><path d="M1075.05 126.15h1.7" stroke="#444" stroke-width="0.75"/><circle cx="1072.81" cy="127.03" r="3.05"/><path d="M1071.96 127.03h1.7" stroke="#444" stroke-width="0.75"/><circle cx="1069.72" cy="127.93" r="3.05"/><path d="M1068.87 127.93h1.7" stroke="#444" stroke-width="0.75"/><circle cx="1066.63" cy="128.85" r="3.05"/><path d="M1065.78 128.85h1.7" stroke="#444" stroke-width="0.75"/><circle cx="1063.54" cy="129.78" r="3.05"/><path d="M1062.69 129.78h1.7" stroke="#444" stroke-width="0.75"/><circle cx="1060.44" cy="130.73" r="3.05"/><path d="M1059.59 130.73h1.7" stroke="#444" stroke-width="0.75"/><circle cx="1057.35" cy="131.7" r="3.05"/><path d="M1056.5 131.7h1.7" stroke="#444" stroke-width="0.75"/><circle cx="1054.26" cy="132.68" r="3.05"/><path d="M1053.41 132.68h1.7" stroke="#444" stroke-width="0.75"/><circle cx="1051.17" cy="133.69" r="3.05"/><path d="M1050.32 133.69h1.7" stroke="#444" stroke-width="0.75"/><circle cx="1048.08" cy="134.71" r="3.05"/><path d="M1047.23 134.71h1.7" stroke="#444" stroke-width="0.75"/><circle cx="1044.99" cy="135.76" r="3.05"/><path d="M1044.14 135.76h1.7" stroke="#444" stroke-width="0.75"/><circle cx="1041.9" cy="136.83" r="3.05"/><path d="M1041.05 136.83h1.7" stroke="#444" stroke-width="0.75"/><circle cx="1038.8" cy="137.92" r="3.05"/><path d="M1037.95 137.92h1.7" stroke="#444" stroke-width="0.75"/><circle cx="1035.71" cy="139.04" r="3.05"/><path d="M1034.86 139.04h1.7" stroke="#444" stroke-width="0.75"/><circle cx="1032.62" cy="140.18" r="3.05"/><path d="M1031.77 140.18h1.7" stroke="#444" stroke-width="0.75"/><circle cx="1029.53" cy="141.35" r="3.05"/><path d="M1028.68 141.35h1.7" stroke="#444" stroke-width="0.75"/><circle cx="1026.44" cy="142.54" r="3.05"/><path d="M1025.59 142.54h1.7" stroke="#444" stroke-width="0.75"/><circle cx="1023.35" cy="143.77" r="3.05"/><path d="M1022.5 143.77h1.7" stroke="#444" stroke-width="0.75"/><circle cx="1020.26" cy="145.02" r="3.05"/><path d="M1019.41 145.02h1.7" stroke="#444" stroke-width="0.75"/><circle cx="1017.16" cy="146.31" r="3.05"/><path d="M1016.31 146.31h1.7" stroke="#444" stroke-width="0.75"/><circle cx="1014.07" cy="147.63" r="3.05"/><path d="M1013.22 147.63h1.7" stroke="#444" stroke-width="0.75"/><circle cx="1010.98" cy="148.99" r="3.05"/><path d="M1010.13 148.99h1.7" stroke="#444" stroke-width="0.75"/><circle cx="1007.89" cy="150.39" r="3.05"/><path d="M1007.04 150.39h1.7" stroke="#444" stroke-width="0.75"/><circle cx="1004.8" cy="151.82" r="3.05"/><path d="M1003.95 151.82h1.7" stroke="#444" stroke-width="0.75"/><circle cx="1001.71" cy="153.31" r="3.05"/><path d="M1000.86 153.31h1.7" stroke="#444" stroke-width="0.75"/><circle cx="998.62" cy="154.83" r="3.05"/><path d="M997.77 154.83h1.7" stroke="#444" stroke-width="0.75"/><circle cx="995.52" cy="156.41" r="3.05"/><path d="M994.67 156.41h1.7" stroke="#444" stroke-width="0.75"/><circle cx="992.43" cy="158.04" r="3.05"/><path d="M991.58 158.04h1.7" stroke="#444" stroke-width="0.75"/><circle cx="989.34" cy="159.72" r="3.05"/><path d="M988.49 159.72h1.7" stroke="#444" stroke-width="0.75"/><circle cx="986.25" cy="161.47" r="3.05"/><path d="M985.4 161.47h1.7" stroke="#444" stroke-width="0.75"/><circle cx="983.16" cy="163.28" r="3.05"/><path d="M982.31 163.28h1.7" stroke="#444" stroke-width="0.75"/><circle cx="980.07" cy="165.16" r="3.05"/><path d="M979.22 165.16h1.7" stroke="#444" stroke-width="0.75"/><circle cx="976.98" cy="167.12" r="3.05"/><path d="M976.13 167.12h1.7" stroke="#444" stroke-width="0.75"/><circle cx="973.88" cy="169.17" r="3.05"/><path d="M973.03 169.17h1.7" stroke="#444" stroke-width="0.75"/></g>
<g fill="#fff" stroke="#111" stroke-width="0.85"><circle cx="966.34" cy="174.22" r="3.05"/><path d="M965.49 174.22h1.7" stroke="#444" stroke-width="0.75"/><circle cx="964.54" cy="175.42" r="3.05"/><path d="M963.69 175.42h1.7" stroke="#444" stroke-width="0.75"/><circle cx="962.73" cy="176.62" r="3.05"/><path d="M961.88 176.62h1.7" stroke="#444" stroke-width="0.75"/><circle cx="960.92" cy="177.83" r="3.05"/><path d="M960.07 177.83h1.7" stroke="#444" stroke-width="0.75"/><circle cx="959.11" cy="179.07" r="3.05"/><path d="M958.26 179.07h1.7" stroke="#444" stroke-width="0.75"/><circle cx="957.3" cy="180.34" r="3.05"/><path d="M956.45 180.34h1.7" stroke="#444" stroke-width="0.75"/><circle cx="955.49" cy="181.62" r="3.05"/><path d="M954.64 181.62h1.7" stroke="#444" stroke-width="0.75"/><circle cx="953.68" cy="182.92" r="3.05"/><path d="M952.83 182.92h1.7" stroke="#444" stroke-width="0.75"/><circle cx="951.87" cy="184.23" r="3.05"/><path d="M951.02 184.23h1.7" stroke="#444" stroke-width="0.75"/><circle cx="950.06" cy="185.58" r="3.05"/><path d="M949.21 185.58h1.7" stroke="#444" stroke-width="0.75"/><circle cx="948.25" cy="186.98" r="3.05"/><path d="M947.4 186.98h1.7" stroke="#444" stroke-width="0.75"/><circle cx="946.44" cy="188.44" r="3.05"/><path d="M945.59 188.44h1.7" stroke="#444" stroke-width="0.75"/><circle cx="944.63" cy="189.96" r="3.05"/><path d="M943.78 189.96h1.7" stroke="#444" stroke-width="0.75"/><circle cx="942.82" cy="191.56" r="3.05"/><path d="M941.97 191.56h1.7" stroke="#444" stroke-width="0.75"/><circle cx="941.01" cy="193.22" r="3.05"/><path d="M940.16 193.22h1.7" stroke="#444" stroke-width="0.75"/><circle cx="939.2" cy="194.94" r="3.05"/><path d="M938.35 194.94h1.7" stroke="#444" stroke-width="0.75"/><circle cx="937.39" cy="196.7" r="3.05"/><path d="M936.54 196.7h1.7" stroke="#444" stroke-width="0.75"/><circle cx="935.58" cy="198.5" r="3.05"/><path d="M934.73 198.5h1.7" stroke="#444" stroke-width="0.75"/><circle cx="933.77" cy="200.31" r="3.05"/><path d="M932.92 200.31h1.7" stroke="#444" stroke-width="0.75"/><circle cx="931.96" cy="202.15" r="3.05"/><path d="M931.11 202.15h1.7" stroke="#444" stroke-width="0.75"/><circle cx="930.15" cy="203.98" r="3.05"/><path d="M929.3 203.98h1.7" stroke="#444" stroke-width="0.75"/><circle cx="928.34" cy="205.81" r="3.05"/><path d="M927.49 205.81h1.7" stroke="#444" stroke-width="0.75"/><circle cx="926.53" cy="207.62" r="3.05"/><path d="M925.68 207.62h1.7" stroke="#444" stroke-width="0.75"/><circle cx="924.72" cy="209.42" r="3.05"/><path d="M923.87 209.42h1.7" stroke="#444" stroke-width="0.75"/><circle cx="922.91" cy="211.22" r="3.05"/><path d="M922.06 211.22h1.7" stroke="#444" stroke-width="0.75"/><circle cx="921.1" cy="213.04" r="3.05"/><path d="M920.25 213.04h1.7" stroke="#444" stroke-width="0.75"/><circle cx="919.3" cy="214.88" r="3.05"/><path d="M918.45 214.88h1.7" stroke="#444" stroke-width="0.75"/><circle cx="917.49" cy="216.77" r="3.05"/><path d="M916.64 216.77h1.7" stroke="#444" stroke-width="0.75"/><circle cx="915.68" cy="218.72" r="3.05"/><path d="M914.83 218.72h1.7" stroke="#444" stroke-width="0.75"/><circle cx="913.87" cy="220.74" r="3.05"/><path d="M913.02 220.74h1.7" stroke="#444" stroke-width="0.75"/><circle cx="912.06" cy="222.85" r="3.05"/><path d="M911.21 222.85h1.7" stroke="#444" stroke-width="0.75"/><circle cx="910.25" cy="225.01" r="3.05"/><path d="M909.4 225.01h1.7" stroke="#444" stroke-width="0.75"/><circle cx="908.44" cy="227.27" r="3.05"/><path d="M907.59 227.27h1.7" stroke="#444" stroke-width="0.75"/><circle cx="906.63" cy="229.65" r="3.05"/><path d="M905.78 229.65h1.7" stroke="#444" stroke-width="0.75"/><circle cx="904.82" cy="232.21" r="3.05"/><path d="M903.97 232.21h1.7" stroke="#444" stroke-width="0.75"/><circle cx="903.01" cy="234.99" r="3.05"/><path d="M902.16 234.99h1.7" stroke="#444" stroke-width="0.75"/><circle cx="901.2" cy="238.09" r="3.05"/><path d="M900.35 238.09h1.7" stroke="#444" stroke-width="0.75"/><circle cx="899.39" cy="241.46" r="3.05"/><path d="M898.54 241.46h1.7" stroke="#444" stroke-width="0.75"/><circle cx="897.58" cy="245.03" r="3.05"/><path d="M896.73 245.03h1.7" stroke="#444" stroke-width="0.75"/><circle cx="895.77" cy="248.72" r="3.05"/><path d="M894.92 248.72h1.7" stroke="#444" stroke-width="0.75"/><circle cx="893.96" cy="252.48" r="3.05"/><path d="M893.11 252.48h1.7" stroke="#444" stroke-width="0.75"/><circle cx="892.15" cy="256.23" r="3.05"/><path d="M891.3 256.23h1.7" stroke="#444" stroke-width="0.75"/><circle cx="890.34" cy="260.06" r="3.05"/><path d="M889.49 260.06h1.7" stroke="#444" stroke-width="0.75"/><circle cx="888.53" cy="264.02" r="3.05"/><path d="M887.68 264.02h1.7" stroke="#444" stroke-width="0.75"/><circle cx="886.72" cy="268.14" r="3.05"/><path d="M885.87 268.14h1.7" stroke="#444" stroke-width="0.75"/><circle cx="884.91" cy="272.46" r="3.05"/><path d="M884.06 272.46h1.7" stroke="#444" stroke-width="0.75"/><circle cx="883.1" cy="277.01" r="3.05"/><path d="M882.25 277.01h1.7" stroke="#444" stroke-width="0.75"/><circle cx="881.29" cy="281.76" r="3.05"/><path d="M880.44 281.76h1.7" stroke="#444" stroke-width="0.75"/><circle cx="879.48" cy="286.66" r="3.05"/><path d="M878.63 286.66h1.7" stroke="#444" stroke-width="0.75"/><circle cx="877.67" cy="291.65" r="3.05"/><path d="M876.82 291.65h1.7" stroke="#444" stroke-width="0.75"/><circle cx="875.86" cy="296.69" r="3.05"/><path d="M875.01 296.69h1.7" stroke="#444" stroke-width="0.75"/><circle cx="874.06" cy="301.83" r="3.05"/><path d="M873.21 301.83h1.7" stroke="#444" stroke-width="0.75"/><circle cx="872.25" cy="307.07" r="3.05"/><path d="M871.4 307.07h1.7" stroke="#444" stroke-width="0.75"/><circle cx="870.44" cy="312.41" r="3.05"/><path d="M869.59 312.41h1.7" stroke="#444" stroke-width="0.75"/><circle cx="870.29" cy="312.86" r="3.05"/><path d="M869.44 312.86h1.7" stroke="#444" stroke-width="0.75"/><circle cx="868.63" cy="317.86" r="3.05"/><path d="M867.78 317.86h1.7" stroke="#444" stroke-width="0.75"/><circle cx="866.97" cy="322.9" r="3.05"/><path d="M866.12 322.9h1.7" stroke="#444" stroke-width="0.75"/><circle cx="865.31" cy="327.93" r="3.05"/><path d="M864.46 327.93h1.7" stroke="#444" stroke-width="0.75"/><circle cx="863.65" cy="332.97" r="3.05"/><path d="M862.8 332.97h1.7" stroke="#444" stroke-width="0.75"/><circle cx="861.99" cy="338.02" r="3.05"/><path d="M861.14 338.02h1.7" stroke="#444" stroke-width="0.75"/><circle cx="860.33" cy="343.05" r="3.05"/><path d="M859.48 343.05h1.7" stroke="#444" stroke-width="0.75"/><circle cx="858.67" cy="348.06" r="3.05"/><path d="M857.82 348.06h1.7" stroke="#444" stroke-width="0.75"/><circle cx="857.01" cy="353.02" r="3.05"/><path d="M856.16 353.02h1.7" stroke="#444" stroke-width="0.75"/><circle cx="855.36" cy="357.9" r="3.05"/><path d="M854.51 357.9h1.7" stroke="#444" stroke-width="0.75"/><circle cx="853.7" cy="362.7" r="3.05"/><path d="M852.85 362.7h1.7" stroke="#444" stroke-width="0.75"/><circle cx="852.04" cy="367.37" r="3.05"/><path d="M851.19 367.37h1.7" stroke="#444" stroke-width="0.75"/><circle cx="850.38" cy="371.9" r="3.05"/><path d="M849.53 371.9h1.7" stroke="#444" stroke-width="0.75"/><circle cx="848.72" cy="376.26" r="3.05"/><path d="M847.87 376.26h1.7" stroke="#444" stroke-width="0.75"/><circle cx="847.06" cy="380.42" r="3.05"/><path d="M846.21 380.42h1.7" stroke="#444" stroke-width="0.75"/><circle cx="845.4" cy="384.35" r="3.05"/><path d="M844.55 384.35h1.7" stroke="#444" stroke-width="0.75"/><circle cx="843.74" cy="388.04" r="3.05"/><path d="M842.89 388.04h1.7" stroke="#444" stroke-width="0.75"/><circle cx="842.09" cy="391.47" r="3.05"/><path d="M841.24 391.47h1.7" stroke="#444" stroke-width="0.75"/><circle cx="840.43" cy="394.62" r="3.05"/><path d="M839.58 394.62h1.7" stroke="#444" stroke-width="0.75"/><circle cx="838.77" cy="400.17" r="3.05"/><path d="M837.92 400.17h1.7" stroke="#444" stroke-width="0.75"/><circle cx="838.01" cy="395.34" r="3.05"/><path d="M837.16 395.34h1.7" stroke="#444" stroke-width="0.75"/><circle cx="837.26" cy="400.32" r="3.05"/><path d="M836.41 400.32h1.7" stroke="#444" stroke-width="0.75"/><circle cx="836.51" cy="398.35" r="3.05"/><path d="M835.66 398.35h1.7" stroke="#444" stroke-width="0.75"/><circle cx="835.75" cy="401.66" r="3.05"/><path d="M834.9 401.66h1.7" stroke="#444" stroke-width="0.75"/><circle cx="835" cy="398.7" r="3.05"/><path d="M834.15 398.7h1.7" stroke="#444" stroke-width="0.75"/><circle cx="834.24" cy="400.99" r="3.05"/><path d="M833.39 400.99h1.7" stroke="#444" stroke-width="0.75"/><circle cx="833.49" cy="401.62" r="3.05"/><path d="M832.64 401.62h1.7" stroke="#444" stroke-width="0.75"/><circle cx="832.74" cy="406.71" r="3.05"/><path d="M831.89 406.71h1.7" stroke="#444" stroke-width="0.75"/><circle cx="831.98" cy="399.7" r="3.05"/><path d="M831.13 399.7h1.7" stroke="#444" stroke-width="0.75"/><circle cx="831.23" cy="406.9" r="3.05"/><path d="M830.38 406.9h1.7" stroke="#444" stroke-width="0.75"/><circle cx="830.47" cy="402.97" r="3.05"/><path d="M829.62 402.97h1.7" stroke="#444" stroke-width="0.75"/><circle cx="829.72" cy="402.4" r="3.05"/><path d="M828.87 402.4h1.7" stroke="#444" stroke-width="0.75"/><circle cx="828.97" cy="406.28" r="3.05"/><path d="M828.12 406.28h1.7" stroke="#444" stroke-width="0.75"/><circle cx="828.21" cy="404.86" r="3.05"/><path d="M827.36 404.86h1.7" stroke="#444" stroke-width="0.75"/><circle cx="827.46" cy="404.31" r="3.05"/><path d="M826.61 404.31h1.7" stroke="#444" stroke-width="0.75"/><circle cx="826.7" cy="409.64" r="3.05"/><path d="M825.85 409.64h1.7" stroke="#444" stroke-width="0.75"/><circle cx="825.95" cy="403.46" r="3.05"/><path d="M825.1 403.46h1.7" stroke="#444" stroke-width="0.75"/><circle cx="825.2" cy="407.6" r="3.05"/><path d="M824.35 407.6h1.7" stroke="#444" stroke-width="0.75"/><circle cx="824.44" cy="408.1" r="3.05"/><path d="M823.59 408.1h1.7" stroke="#444" stroke-width="0.75"/><circle cx="823.69" cy="411.79" r="3.05"/><path d="M822.84 411.79h1.7" stroke="#444" stroke-width="0.75"/><circle cx="822.93" cy="414.69" r="3.05"/><path d="M822.08 414.69h1.7" stroke="#444" stroke-width="0.75"/><circle cx="822.18" cy="411.1" r="3.05"/><path d="M821.33 411.1h1.7" stroke="#444" stroke-width="0.75"/><circle cx="821.43" cy="406.7" r="3.05"/><path d="M820.58 406.7h1.7" stroke="#444" stroke-width="0.75"/><circle cx="820.67" cy="411.39" r="3.05"/><path d="M819.82 411.39h1.7" stroke="#444" stroke-width="0.75"/><circle cx="819.92" cy="411.69" r="3.05"/><path d="M819.07 411.69h1.7" stroke="#444" stroke-width="0.75"/><circle cx="819.16" cy="408.4" r="3.05"/><path d="M818.31 408.4h1.7" stroke="#444" stroke-width="0.75"/><circle cx="818.41" cy="412.24" r="3.05"/><path d="M817.56 412.24h1.7" stroke="#444" stroke-width="0.75"/><circle cx="817.66" cy="407.92" r="3.05"/><path d="M816.81 407.92h1.7" stroke="#444" stroke-width="0.75"/><circle cx="816.9" cy="404.39" r="3.05"/><path d="M816.05 404.39h1.7" stroke="#444" stroke-width="0.75"/><circle cx="816.15" cy="411.55" r="3.05"/><path d="M815.3 411.55h1.7" stroke="#444" stroke-width="0.75"/><circle cx="815.39" cy="413.6" r="3.05"/><path d="M814.54 413.6h1.7" stroke="#444" stroke-width="0.75"/><circle cx="814.64" cy="413.43" r="3.05"/><path d="M813.79 413.43h1.7" stroke="#444" stroke-width="0.75"/><circle cx="813.89" cy="410.42" r="3.05"/><path d="M813.04 410.42h1.7" stroke="#444" stroke-width="0.75"/><circle cx="813.13" cy="411.72" r="3.05"/><path d="M812.28 411.72h1.7" stroke="#444" stroke-width="0.75"/><circle cx="812.38" cy="410.57" r="3.05"/><path d="M811.53 410.57h1.7" stroke="#444" stroke-width="0.75"/><circle cx="811.62" cy="410.86" r="3.05"/><path d="M810.77 410.86h1.7" stroke="#444" stroke-width="0.75"/><circle cx="810.87" cy="417.56" r="3.05"/><path d="M810.02 417.56h1.7" stroke="#444" stroke-width="0.75"/><circle cx="810.12" cy="414.27" r="3.05"/><path d="M809.27 414.27h1.7" stroke="#444" stroke-width="0.75"/><circle cx="809.36" cy="410.34" r="3.05"/><path d="M808.51 410.34h1.7" stroke="#444" stroke-width="0.75"/></g>
<polyline points="809.36,253.76 809.74,253.75 810.12,253.75 810.49,253.75 810.87,253.76 811.25,253.76 811.62,253.77 812,253.77 812.38,253.78 812.75,253.79 813.13,253.81 813.51,253.82 813.89,253.83 814.26,253.85 814.64,253.87 815.02,253.89 815.39,253.91 815.77,253.93 816.15,253.95 816.52,253.97 816.9,254 817.28,254.02 817.66,254.05 818.03,254.08 818.41,254.11 818.79,254.14 819.16,254.17 819.54,254.2 819.92,254.25 820.3,254.3 820.67,254.37 821.05,254.44 821.43,254.52 821.8,254.61 822.18,254.7 822.56,254.8 822.93,254.91 823.31,255.02 823.69,255.13 824.07,255.25 824.44,255.37 824.82,255.49 825.2,255.62 825.57,255.74 825.95,255.88 826.33,256.02 826.7,256.17 827.08,256.33 827.46,256.49 827.84,256.66 828.21,256.84" fill="none" stroke="#8c00ff" stroke-width="6.95" stroke-linecap="round" stroke-linejoin="round"/>
<polyline points="809.74,253.75 810.12,253.75 810.49,253.75 810.87,253.76 811.25,253.76 811.62,253.77 812,253.77 812.38,253.78 812.75,253.79 813.13,253.81 813.51,253.82 813.89,253.83 814.26,253.85 814.64,253.87 815.02,253.89 815.39,253.91 815.77,253.93 816.15,253.95 816.52,253.97 816.9,254 817.28,254.02 817.66,254.05 818.03,254.08 818.41,254.11 818.79,254.14 819.16,254.17 819.54,254.2 819.92,254.25 820.3,254.3 820.67,254.37 821.05,254.44 821.43,254.52 821.8,254.61 822.18,254.7 822.56,254.8 822.93,254.91 823.31,255.02 823.69,255.13 824.07,255.25 824.44,255.37 824.82,255.49 825.2,255.62 825.57,255.74 825.95,255.88 826.33,256.02 826.7,256.17 827.08,256.33 827.46,256.49 827.84,256.66 828.21,256.84" fill="none" stroke="#fff" stroke-opacity="0.75" stroke-width="0.6" stroke-dasharray="0.7 1.3"/>
<g fill="#fff" stroke="#8c00ff" stroke-width="0.8"><circle cx="828.66" cy="257.07" r="3.05"/><circle cx="829.27" cy="257.39" r="3.05"/><circle cx="829.87" cy="257.73" r="3.05"/><circle cx="830.47" cy="258.09" r="3.05"/><circle cx="831.08" cy="258.47" r="3.05"/><circle cx="831.68" cy="258.88" r="3.05"/><circle cx="832.28" cy="259.3" r="3.05"/><circle cx="832.89" cy="259.74" r="3.05"/><circle cx="833.49" cy="260.23" r="3.05"/><circle cx="834.09" cy="260.82" r="3.05"/><circle cx="834.7" cy="261.48" r="3.05"/><circle cx="835.3" cy="262.22" r="3.05"/><circle cx="835.9" cy="263.01" r="3.05"/><circle cx="836.51" cy="263.86" r="3.05"/><circle cx="837.11" cy="264.73" r="3.05"/><circle cx="837.26" cy="264.95" r="3.05"/><circle cx="838.16" cy="266.3" r="3.05"/><circle cx="839.07" cy="267.63" r="3.05"/><circle cx="839.97" cy="268.93" r="3.05"/><circle cx="840.88" cy="270.12" r="3.05"/><circle cx="841.78" cy="271.25" r="3.05"/><circle cx="842.69" cy="272.4" r="3.05"/><circle cx="843.59" cy="273.55" r="3.05"/><circle cx="844.5" cy="274.69" r="3.05"/><circle cx="845.4" cy="275.79" r="3.05"/><circle cx="846.31" cy="276.84" r="3.05"/><circle cx="847.21" cy="277.82" r="3.05"/><circle cx="848.12" cy="278.71" r="3.05"/><circle cx="849.02" cy="279.51" r="3.05"/><circle cx="849.93" cy="280.33" r="3.05"/><circle cx="850.83" cy="281.16" r="3.05"/><circle cx="851.74" cy="281.98" r="3.05"/><circle cx="852.64" cy="282.76" r="3.05"/><circle cx="853.55" cy="283.46" r="3.05"/><circle cx="854.45" cy="284.07" r="3.05"/><circle cx="855.36" cy="284.55" r="3.05"/><circle cx="856.26" cy="284.87" r="3.05"/><circle cx="857.17" cy="285.01" r="3.05"/><circle cx="858.07" cy="284.91" r="3.05"/><circle cx="858.98" cy="284.55" r="3.05"/><circle cx="859.88" cy="283.98" r="3.05"/><circle cx="860.78" cy="283.23" r="3.05"/><circle cx="861.69" cy="282.36" r="3.05"/><circle cx="862.59" cy="281.4" r="3.05"/><circle cx="863.5" cy="280.41" r="3.05"/><circle cx="864.4" cy="279.43" r="3.05"/><circle cx="865.31" cy="278.45" r="3.05"/><circle cx="866.21" cy="277.33" r="3.05"/><circle cx="867.12" cy="276.1" r="3.05"/><circle cx="868.02" cy="274.76" r="3.05"/><circle cx="868.93" cy="273.33" r="3.05"/><circle cx="869.83" cy="271.84" r="3.05"/><circle cx="870.44" cy="270.83" r="3.05"/><circle cx="871.79" cy="268.35" r="3.05"/><circle cx="873.15" cy="265.52" r="3.05"/><circle cx="874.51" cy="262.6" r="3.05"/><circle cx="875.86" cy="259.86" r="3.05"/><circle cx="877.22" cy="257.37" r="3.05"/><circle cx="878.58" cy="254.98" r="3.05"/><circle cx="879.94" cy="252.66" r="3.05"/><circle cx="881.29" cy="250.37" r="3.05"/><circle cx="882.65" cy="248.08" r="3.05"/><circle cx="884.01" cy="245.8" r="3.05"/><circle cx="885.37" cy="243.55" r="3.05"/><circle cx="886.72" cy="241.38" r="3.05"/><circle cx="888.08" cy="239.31" r="3.05"/><circle cx="889.44" cy="237.33" r="3.05"/><circle cx="890.79" cy="235.41" r="3.05"/><circle cx="892.15" cy="233.55" r="3.05"/><circle cx="893.51" cy="231.73" r="3.05"/><circle cx="894.87" cy="229.94" r="3.05"/><circle cx="896.22" cy="228.18" r="3.05"/><circle cx="897.58" cy="226.46" r="3.05"/><circle cx="898.94" cy="224.78" r="3.05"/><circle cx="900.29" cy="223.12" r="3.05"/><circle cx="901.65" cy="221.46" r="3.05"/><circle cx="903.01" cy="219.83" r="3.05"/><circle cx="904.37" cy="218.23" r="3.05"/><circle cx="905.72" cy="216.65" r="3.05"/><circle cx="907.08" cy="215.05" r="3.05"/><circle cx="908.44" cy="213.42" r="3.05"/><circle cx="909.79" cy="211.72" r="3.05"/><circle cx="911.15" cy="209.92" r="3.05"/><circle cx="912.51" cy="208.02" r="3.05"/><circle cx="913.87" cy="206.06" r="3.05"/><circle cx="915.22" cy="204.1" r="3.05"/><circle cx="916.58" cy="202.17" r="3.05"/><circle cx="917.94" cy="200.33" r="3.05"/><circle cx="919.3" cy="198.56" r="3.05"/><circle cx="920.65" cy="196.78" r="3.05"/><circle cx="922.01" cy="195.04" r="3.05"/><circle cx="923.37" cy="193.36" r="3.05"/><circle cx="924.72" cy="191.78" r="3.05"/><circle cx="926.08" cy="190.34" r="3.05"/><circle cx="927.44" cy="189.05" r="3.05"/><circle cx="928.8" cy="187.89" r="3.05"/><circle cx="930.15" cy="186.81" r="3.05"/><circle cx="931.51" cy="185.79" r="3.05"/><circle cx="932.87" cy="184.78" r="3.05"/><circle cx="934.22" cy="183.74" r="3.05"/><circle cx="935.58" cy="182.66" r="3.05"/><circle cx="936.94" cy="181.54" r="3.05"/><circle cx="938.3" cy="180.42" r="3.05"/><circle cx="939.65" cy="179.3" r="3.05"/><circle cx="941.01" cy="178.22" r="3.05"/><circle cx="942.37" cy="177.19" r="3.05"/><circle cx="943.72" cy="176.22" r="3.05"/><circle cx="945.08" cy="175.31" r="3.05"/><circle cx="946.44" cy="174.42" r="3.05"/><circle cx="947.8" cy="173.57" r="3.05"/><circle cx="949.15" cy="172.75" r="3.05"/><circle cx="950.51" cy="171.96" r="3.05"/><circle cx="951.87" cy="171.2" r="3.05"/><circle cx="953.23" cy="170.49" r="3.05"/><circle cx="954.58" cy="169.81" r="3.05"/><circle cx="955.94" cy="169.15" r="3.05"/><circle cx="957.3" cy="168.48" r="3.05"/><circle cx="958.65" cy="167.79" r="3.05"/><circle cx="960.01" cy="167.08" r="3.05"/><circle cx="961.37" cy="166.37" r="3.05"/><circle cx="962.73" cy="165.65" r="3.05"/><circle cx="964.08" cy="164.92" r="3.05"/><circle cx="965.44" cy="164.2" r="3.05"/><circle cx="966.8" cy="163.47" r="3.05"/><circle cx="968.15" cy="162.75" r="3.05"/><circle cx="969.51" cy="162.04" r="3.05"/><circle cx="970.87" cy="161.34" r="3.05"/><circle cx="972.23" cy="160.66" r="3.05"/><circle cx="972.98" cy="160.28" r="3.05"/><circle cx="976" cy="158.81" r="3.05"/><circle cx="979.01" cy="157.37" r="3.05"/><circle cx="982.03" cy="155.96" r="3.05"/><circle cx="985.04" cy="154.58" r="3.05"/><circle cx="988.06" cy="153.24" r="3.05"/><circle cx="991.08" cy="151.93" r="3.05"/><circle cx="994.09" cy="150.65" r="3.05"/><circle cx="997.11" cy="149.38" r="3.05"/><circle cx="1000.12" cy="148.14" r="3.05"/><circle cx="1003.14" cy="146.92" r="3.05"/><circle cx="1006.16" cy="145.73" r="3.05"/><circle cx="1009.17" cy="144.56" r="3.05"/><circle cx="1012.19" cy="143.41" r="3.05"/><circle cx="1015.2" cy="142.28" r="3.05"/><circle cx="1018.22" cy="141.18" r="3.05"/><circle cx="1021.24" cy="140.09" r="3.05"/><circle cx="1024.25" cy="139.02" r="3.05"/><circle cx="1027.27" cy="137.98" r="3.05"/><circle cx="1030.28" cy="136.95" r="3.05"/><circle cx="1033.3" cy="135.95" r="3.05"/><circle cx="1036.32" cy="134.96" r="3.05"/><circle cx="1039.33" cy="133.99" r="3.05"/><circle cx="1042.35" cy="133.03" r="3.05"/><circle cx="1045.36" cy="132.09" r="3.05"/><circle cx="1048.38" cy="131.16" r="3.05"/><circle cx="1051.4" cy="130.24" r="3.05"/><circle cx="1054.41" cy="129.34" r="3.05"/><circle cx="1057.43" cy="128.46" r="3.05"/><circle cx="1060.44" cy="127.59" r="3.05"/><circle cx="1063.46" cy="126.73" r="3.05"/><circle cx="1066.48" cy="125.88" r="3.05"/><circle cx="1069.49" cy="125.05" r="3.05"/><circle cx="1072.51" cy="124.23" r="3.05"/><circle cx="1075.52" cy="123.42" r="3.05"/><circle cx="1078.54" cy="122.62" r="3.05"/><circle cx="1081.56" cy="121.84" r="3.05"/><circle cx="1084.57" cy="121.07" r="3.05"/><circle cx="1087.59" cy="120.3" r="3.05"/><circle cx="1090.6" cy="119.55" r="3.05"/><circle cx="1093.62" cy="118.81" r="3.05"/><circle cx="1096.64" cy="118.08" r="3.05"/><circle cx="1099.65" cy="117.36" r="3.05"/><circle cx="1102.67" cy="116.64" r="3.05"/><circle cx="1105.68" cy="115.94" r="3.05"/><circle cx="1108.7" cy="115.25" r="3.05"/><circle cx="1111.72" cy="114.57" r="3.05"/><circle cx="1114.73" cy="113.89" r="3.05"/><circle cx="1117.75" cy="113.22" r="3.05"/><circle cx="1120.76" cy="112.57" r="3.05"/><circle cx="1123.78" cy="111.92" r="3.05"/><circle cx="1126.8" cy="111.27" r="3.05"/><circle cx="1129.81" cy="110.64" r="3.05"/><circle cx="1132.83" cy="110.01" r="3.05"/><circle cx="1135.84" cy="109.39" r="3.05"/><circle cx="1138.86" cy="108.78" r="3.05"/><circle cx="1141.88" cy="108.18" r="3.05"/><circle cx="1144.89" cy="107.58" r="3.05"/><circle cx="1147.91" cy="106.99" r="3.05"/><circle cx="1150.92" cy="106.41" r="3.05"/><circle cx="1153.94" cy="105.83" r="3.05"/><circle cx="1156.96" cy="105.26" r="3.05"/><circle cx="1159.97" cy="104.7" r="3.05"/><circle cx="1162.99" cy="104.14" r="3.05"/><circle cx="1166" cy="103.59" r="3.05"/><circle cx="1169.02" cy="103.05" r="3.05"/><circle cx="1172.04" cy="102.51" r="3.05"/><circle cx="1175.05" cy="101.98" r="3.05"/><circle cx="1178.07" cy="101.45" r="3.05"/><circle cx="1181.08" cy="100.93" r="3.05"/><circle cx="1184.1" cy="100.42" r="3.05"/><circle cx="1187.12" cy="99.91" r="3.05"/><circle cx="1190.13" cy="99.4" r="3.05"/><circle cx="1193.15" cy="98.9" r="3.05"/><circle cx="1196.16" cy="98.41" r="3.05"/><circle cx="1199.18" cy="97.92" r="3.05"/><circle cx="1202.2" cy="97.44" r="3.05"/><circle cx="1205.21" cy="96.96" r="3.05"/><circle cx="1208.23" cy="96.49" r="3.05"/><circle cx="1211.24" cy="96.02" r="3.05"/><circle cx="1214.26" cy="95.55" r="3.05"/><circle cx="1217.28" cy="95.09" r="3.05"/><circle cx="1220.29" cy="94.64" r="3.05"/><circle cx="1223.31" cy="94.19" r="3.05"/><circle cx="1226.32" cy="93.74" r="3.05"/><circle cx="1229.34" cy="93.3" r="3.05"/><circle cx="1232.36" cy="92.87" r="3.05"/><circle cx="1235.37" cy="92.43" r="3.05"/><circle cx="1238.39" cy="92" r="3.05"/><circle cx="1241.4" cy="91.58" r="3.05"/><circle cx="1244.42" cy="91.15" r="3.05"/></g>
<path d="M807.1 432.6V423.6M807.1 18.2V27.2M957.9 432.6V423.6M957.9 18.2V27.2M1108.7 432.6V423.6M1108.7 18.2V27.2M1259.5 432.6V423.6M1259.5 18.2V27.2M837.26 432.6V428.3M837.26 18.2V22.5M867.42 432.6V428.3M867.42 18.2V22.5M897.58 432.6V428.3M897.58 18.2V22.5M927.74 432.6V428.3M927.74 18.2V22.5M988.06 432.6V428.3M988.06 18.2V22.5M1018.22 432.6V428.3M1018.22 18.2V22.5M1048.38 432.6V428.3M1048.38 18.2V22.5M1078.54 432.6V428.3M1078.54 18.2V22.5M1138.86 432.6V428.3M1138.86 18.2V22.5M1169.02 432.6V428.3M1169.02 18.2V22.5M1199.18 432.6V428.3M1199.18 18.2V22.5M1229.34 432.6V428.3M1229.34 18.2V22.5M792.2 391.2H801.2M1274.5 391.2H1265.5M792.2 287.7H801.2M1274.5 287.7H1265.5M792.2 184.2H801.2M1274.5 184.2H1265.5M792.2 80.7H801.2M1274.5 80.7H1265.5M792.2 422.36H796.5M1274.5 422.36H1270.2M792.2 414.16H796.5M1274.5 414.16H1270.2M792.2 407.23H796.5M1274.5 407.23H1270.2M792.2 401.23H796.5M1274.5 401.23H1270.2M792.2 395.94H796.5M1274.5 395.94H1270.2M792.2 360.04H796.5M1274.5 360.04H1270.2M792.2 341.82H796.5M1274.5 341.82H1270.2M792.2 328.89H796.5M1274.5 328.89H1270.2M792.2 318.86H796.5M1274.5 318.86H1270.2M792.2 310.66H796.5M1274.5 310.66H1270.2M792.2 303.73H796.5M1274.5 303.73H1270.2M792.2 297.73H796.5M1274.5 297.73H1270.2M792.2 292.44H796.5M1274.5 292.44H1270.2M792.2 256.54H796.5M1274.5 256.54H1270.2M792.2 238.32H796.5M1274.5 238.32H1270.2M792.2 225.39H796.5M1274.5 225.39H1270.2M792.2 215.36H796.5M1274.5 215.36H1270.2M792.2 207.16H796.5M1274.5 207.16H1270.2M792.2 200.23H796.5M1274.5 200.23H1270.2M792.2 194.23H796.5M1274.5 194.23H1270.2M792.2 188.94H796.5M1274.5 188.94H1270.2M792.2 153.04H796.5M1274.5 153.04H1270.2M792.2 134.82H796.5M1274.5 134.82H1270.2M792.2 121.89H796.5M1274.5 121.89H1270.2M792.2 111.86H796.5M1274.5 111.86H1270.2M792.2 103.66H796.5M1274.5 103.66H1270.2M792.2 96.73H796.5M1274.5 96.73H1270.2M792.2 90.73H796.5M1274.5 90.73H1270.2M792.2 85.44H796.5M1274.5 85.44H1270.2M792.2 49.54H796.5M1274.5 49.54H1270.2M792.2 31.32H796.5M1274.5 31.32H1270.2" stroke="#000" stroke-width="2.1" fill="none"/>
<rect x="792.2" y="18.2" width="482.3" height="414.4" fill="none" stroke="#000" stroke-width="2.3" stroke-linejoin="round"/>
<text x="798.95" y="466.9" font-size="29.3">0</text>
<text x="933.46" y="466.9" font-size="29.3">100</text>
<g fill="#fff" shape-rendering="crispEdges"><rect x="934.48" y="463.86" width="5.84" height="3.94"/><rect x="943.91" y="463.86" width="5.22" height="3.94"/></g>
<text x="1084.26" y="466.9" font-size="29.3">200</text>
<text x="1235.06" y="466.9" font-size="29.3">300</text>
<text x="721.85" y="88.1" font-size="29.3">10</text>
<g fill="#fff" shape-rendering="crispEdges"><rect x="722.87" y="85.06" width="5.84" height="3.94"/><rect x="732.31" y="85.06" width="5.22" height="3.94"/></g>
<text x="753.27" y="75.2" font-size="20.5">−5</text>
<text x="721.85" y="191.6" font-size="29.3">10</text>
<g fill="#fff" shape-rendering="crispEdges"><rect x="722.87" y="188.56" width="5.84" height="3.94"/><rect x="732.31" y="188.56" width="5.22" height="3.94"/></g>
<text x="753.27" y="178.7" font-size="20.5">−6</text>
<text x="721.85" y="295.1" font-size="29.3">10</text>
<g fill="#fff" shape-rendering="crispEdges"><rect x="722.87" y="292.06" width="5.84" height="3.94"/><rect x="732.31" y="292.06" width="5.22" height="3.94"/></g>
<text x="753.27" y="282.2" font-size="20.5">−7</text>
<text x="721.85" y="398.6" font-size="29.3">10</text>
<g fill="#fff" shape-rendering="crispEdges"><rect x="722.87" y="395.56" width="5.84" height="3.94"/><rect x="732.31" y="395.56" width="5.22" height="3.94"/></g>
<text x="753.27" y="385.7" font-size="20.5">−8</text>
<text x="920.53" y="73" font-size="26">S3</text>
<text x="818.19" y="203" font-size="25.5">14 T</text>
<g fill="#fff" shape-rendering="crispEdges"><rect x="819.08" y="200.24" width="5.02" height="3.66"/><rect x="827.35" y="200.24" width="4.48" height="3.66"/></g>
<text x="873.38" y="412.3" font-size="25.5">0 T</text>
<text x="1002.65" y="508.6" font-size="30" font-style="italic">T</text>
<text x="1027.21" y="508.6" font-size="29">(K)</text>
<g transform="translate(692,224.6) rotate(-90)"><text x="0" y="0" font-size="29.3" text-anchor="middle"><tspan font-family='"Liberation Serif", serif' font-style="italic">ρ</tspan><tspan font-size="20.5" dy="7">xx</tspan><tspan dy="-7"> (Ωcm)</tspan></text></g>
<rect x="1047.9" y="175.2" width="203.4" height="176.1" fill="#fff"/>
<g fill="#fff" stroke="#000" stroke-width="0.7"><circle cx="1251.6" cy="253.42" r="2.05"/><circle cx="1249.05" cy="253.27" r="2.05"/><circle cx="1246.5" cy="257.94" r="2.05"/><circle cx="1243.95" cy="258.56" r="2.05"/><circle cx="1241.4" cy="259.92" r="2.05"/><circle cx="1238.85" cy="264.56" r="2.05"/><circle cx="1236.3" cy="263.14" r="2.05"/><circle cx="1233.75" cy="266.73" r="2.05"/><circle cx="1231.2" cy="268.21" r="2.05"/><circle cx="1228.65" cy="271.61" r="2.05"/><circle cx="1226.1" cy="271.92" r="2.05"/><circle cx="1223.55" cy="275.59" r="2.05"/><circle cx="1221" cy="276.88" r="2.05"/><circle cx="1218.45" cy="276.55" r="2.05"/><circle cx="1215.9" cy="282.5" r="2.05"/><circle cx="1213.35" cy="284.53" r="2.05"/><circle cx="1210.8" cy="286" r="2.05"/><circle cx="1208.25" cy="288.89" r="2.05"/><circle cx="1205.7" cy="289.53" r="2.05"/><circle cx="1203.15" cy="292.47" r="2.05"/><circle cx="1200.6" cy="296.48" r="2.05"/><circle cx="1198.05" cy="293.69" r="2.05"/><circle cx="1195.5" cy="297.37" r="2.05"/><circle cx="1192.95" cy="298.19" r="2.05"/><circle cx="1190.4" cy="298.86" r="2.05"/><circle cx="1187.85" cy="302.36" r="2.05"/><circle cx="1185.3" cy="302.62" r="2.05"/><circle cx="1182.75" cy="305.24" r="2.05"/><circle cx="1180.2" cy="307.44" r="2.05"/><circle cx="1177.65" cy="308.57" r="2.05"/><circle cx="1175.1" cy="308.55" r="2.05"/><circle cx="1172.55" cy="313.15" r="2.05"/><circle cx="1170" cy="315.89" r="2.05"/><circle cx="1167.45" cy="315.68" r="2.05"/><circle cx="1164.9" cy="317.72" r="2.05"/><circle cx="1162.35" cy="318.19" r="2.05"/><circle cx="1159.8" cy="316.72" r="2.05"/><circle cx="1157.25" cy="314.98" r="2.05"/><circle cx="1154.7" cy="318.9" r="2.05"/><circle cx="1152.15" cy="323.62" r="2.05"/><circle cx="1149.6" cy="323.63" r="2.05"/><circle cx="1147.05" cy="319.26" r="2.05"/><circle cx="1144.5" cy="321.75" r="2.05"/><circle cx="1141.95" cy="321.61" r="2.05"/><circle cx="1139.4" cy="323.03" r="2.05"/><circle cx="1136.85" cy="326.9" r="2.05"/><circle cx="1134.3" cy="322.51" r="2.05"/><circle cx="1131.75" cy="325.36" r="2.05"/><circle cx="1129.2" cy="323.9" r="2.05"/><circle cx="1126.65" cy="327.11" r="2.05"/><circle cx="1124.1" cy="327.09" r="2.05"/><circle cx="1124" cy="328.3" r="2.05"/><circle cx="1122.88" cy="327.85" r="2.05"/><circle cx="1121.75" cy="326.23" r="2.05"/><circle cx="1120.63" cy="327.51" r="2.05"/><circle cx="1119.51" cy="324.64" r="2.05"/><circle cx="1118.39" cy="327.26" r="2.05"/><circle cx="1117.27" cy="329.19" r="2.05"/><circle cx="1116.14" cy="322.62" r="2.05"/><circle cx="1115.02" cy="329.88" r="2.05"/><circle cx="1113.9" cy="323.21" r="2.05"/><circle cx="1112.78" cy="330.6" r="2.05"/><circle cx="1111.66" cy="330.19" r="2.05"/><circle cx="1110.53" cy="328.11" r="2.05"/><circle cx="1109.41" cy="329.7" r="2.05"/><circle cx="1108.29" cy="326.22" r="2.05"/><circle cx="1107.17" cy="325.73" r="2.05"/><circle cx="1106.05" cy="327.6" r="2.05"/><circle cx="1104.92" cy="328.56" r="2.05"/><circle cx="1103.8" cy="330.14" r="2.05"/><circle cx="1102.68" cy="329.78" r="2.05"/><circle cx="1101.56" cy="331.27" r="2.05"/><circle cx="1100.44" cy="331.99" r="2.05"/><circle cx="1099.31" cy="330.85" r="2.05"/><circle cx="1098.19" cy="327.24" r="2.05"/><circle cx="1097.07" cy="325.05" r="2.05"/><circle cx="1095.95" cy="333.17" r="2.05"/><circle cx="1094.83" cy="329.72" r="2.05"/><circle cx="1093.7" cy="330.39" r="2.05"/><circle cx="1092.58" cy="331.57" r="2.05"/><circle cx="1091.46" cy="335.76" r="2.05"/><circle cx="1090.34" cy="333.08" r="2.05"/><circle cx="1089.22" cy="333.08" r="2.05"/><circle cx="1088.09" cy="329.67" r="2.05"/><circle cx="1086.97" cy="330.84" r="2.05"/><circle cx="1085.85" cy="334.65" r="2.05"/><circle cx="1084.73" cy="334.55" r="2.05"/><circle cx="1083.61" cy="337.72" r="2.05"/><circle cx="1082.48" cy="332.27" r="2.05"/><circle cx="1081.36" cy="333.46" r="2.05"/><circle cx="1080.24" cy="330.04" r="2.05"/><circle cx="1079.12" cy="327.11" r="2.05"/><circle cx="1078" cy="330.34" r="2.05"/><circle cx="1076.87" cy="329.22" r="2.05"/><circle cx="1075.75" cy="332.68" r="2.05"/><circle cx="1074.63" cy="335.9" r="2.05"/><circle cx="1073.51" cy="337.07" r="2.05"/><circle cx="1072.39" cy="332.8" r="2.05"/><circle cx="1071.26" cy="334.03" r="2.05"/><circle cx="1070.14" cy="333.76" r="2.05"/><circle cx="1069.02" cy="334.43" r="2.05"/><circle cx="1067.9" cy="330.1" r="2.05"/><circle cx="1066.78" cy="331.56" r="2.05"/><circle cx="1065.65" cy="335.76" r="2.05"/><circle cx="1064.53" cy="328.62" r="2.05"/><circle cx="1063.41" cy="337.02" r="2.05"/><circle cx="1062.29" cy="332.96" r="2.05"/><circle cx="1061.17" cy="325.04" r="2.05"/><circle cx="1060.04" cy="336.55" r="2.05"/><circle cx="1058.92" cy="333.58" r="2.05"/><circle cx="1057.8" cy="332.63" r="2.05"/></g>
<g fill="#fff" stroke="#8c00ff" stroke-width="0.8"><circle cx="1057.8" cy="188.96" r="1.85"/><circle cx="1059.18" cy="188.96" r="1.85"/><circle cx="1060.55" cy="188.96" r="1.85"/><circle cx="1061.93" cy="188.97" r="1.85"/><circle cx="1063.31" cy="188.98" r="1.85"/><circle cx="1064.68" cy="188.99" r="1.85"/><circle cx="1066.06" cy="189" r="1.85"/><circle cx="1067.44" cy="189.01" r="1.85"/><circle cx="1068.82" cy="189.03" r="1.85"/><circle cx="1070.19" cy="189.04" r="1.85"/><circle cx="1071.57" cy="189.06" r="1.85"/><circle cx="1072.95" cy="189.08" r="1.85"/><circle cx="1074.32" cy="189.11" r="1.85"/><circle cx="1075.7" cy="189.13" r="1.85"/><circle cx="1077.08" cy="189.16" r="1.85"/><circle cx="1078.45" cy="189.18" r="1.85"/><circle cx="1079.83" cy="189.21" r="1.85"/><circle cx="1081.21" cy="189.24" r="1.85"/><circle cx="1082.59" cy="189.27" r="1.85"/><circle cx="1083.96" cy="189.31" r="1.85"/><circle cx="1085.34" cy="189.34" r="1.85"/><circle cx="1086.72" cy="189.38" r="1.85"/><circle cx="1088.09" cy="189.41" r="1.85"/><circle cx="1089.47" cy="189.45" r="1.85"/><circle cx="1090.85" cy="189.49" r="1.85"/><circle cx="1092.22" cy="189.53" r="1.85"/><circle cx="1093.6" cy="189.57" r="1.85"/><circle cx="1094.98" cy="189.61" r="1.85"/><circle cx="1096.36" cy="189.65" r="1.85"/><circle cx="1097.73" cy="189.69" r="1.85"/><circle cx="1099.11" cy="189.74" r="1.85"/><circle cx="1100.49" cy="189.78" r="1.85"/><circle cx="1101.86" cy="189.84" r="1.85"/><circle cx="1103.24" cy="189.9" r="1.85"/><circle cx="1104.62" cy="189.97" r="1.85"/><circle cx="1105.99" cy="190.04" r="1.85"/><circle cx="1107.37" cy="190.13" r="1.85"/><circle cx="1108.75" cy="190.21" r="1.85"/><circle cx="1110.13" cy="190.31" r="1.85"/><circle cx="1111.5" cy="190.41" r="1.85"/><circle cx="1112.88" cy="190.51" r="1.85"/><circle cx="1114.26" cy="190.63" r="1.85"/><circle cx="1115.63" cy="190.75" r="1.85"/><circle cx="1116.45" cy="190.82" r="1.85"/><circle cx="1119.51" cy="191.12" r="1.85"/><circle cx="1122.57" cy="191.45" r="1.85"/><circle cx="1125.63" cy="191.83" r="1.85"/><circle cx="1128.69" cy="192.38" r="1.85"/><circle cx="1131.75" cy="193.08" r="1.85"/><circle cx="1134.81" cy="193.92" r="1.85"/><circle cx="1137.87" cy="194.84" r="1.85"/><circle cx="1140.93" cy="195.81" r="1.85"/><circle cx="1143.99" cy="196.81" r="1.85"/><circle cx="1147.05" cy="197.78" r="1.85"/><circle cx="1150.11" cy="198.71" r="1.85"/><circle cx="1153.17" cy="199.65" r="1.85"/><circle cx="1156.23" cy="200.61" r="1.85"/><circle cx="1159.29" cy="201.61" r="1.85"/><circle cx="1162.35" cy="202.62" r="1.85"/><circle cx="1165.41" cy="203.64" r="1.85"/><circle cx="1168.47" cy="204.66" r="1.85"/><circle cx="1171.53" cy="205.67" r="1.85"/><circle cx="1174.59" cy="206.67" r="1.85"/><circle cx="1177.65" cy="207.67" r="1.85"/><circle cx="1180.71" cy="208.7" r="1.85"/><circle cx="1183.77" cy="209.73" r="1.85"/><circle cx="1186.83" cy="210.77" r="1.85"/><circle cx="1189.89" cy="211.79" r="1.85"/><circle cx="1192.95" cy="212.78" r="1.85"/><circle cx="1196.01" cy="213.72" r="1.85"/><circle cx="1199.07" cy="214.6" r="1.85"/><circle cx="1202.13" cy="215.44" r="1.85"/><circle cx="1205.19" cy="216.37" r="1.85"/><circle cx="1208.25" cy="217.28" r="1.85"/><circle cx="1211.31" cy="218.03" r="1.85"/><circle cx="1214.37" cy="218.47" r="1.85"/><circle cx="1217.43" cy="218.52" r="1.85"/><circle cx="1220.49" cy="218.39" r="1.85"/><circle cx="1223.55" cy="218.15" r="1.85"/><circle cx="1226.61" cy="217.84" r="1.85"/><circle cx="1229.67" cy="217.49" r="1.85"/><circle cx="1232.73" cy="217.09" r="1.85"/><circle cx="1235.79" cy="216.52" r="1.85"/><circle cx="1238.85" cy="215.8" r="1.85"/><circle cx="1241.91" cy="214.92" r="1.85"/><circle cx="1244.97" cy="213.92" r="1.85"/><circle cx="1248.03" cy="212.81" r="1.85"/><circle cx="1251.09" cy="211.61" r="1.85"/></g>
<path d="M1098.6 351.3V345.3M1098.6 175.2V181.2M1149.6 351.3V345.3M1149.6 175.2V181.2M1200.6 351.3V345.3M1200.6 175.2V181.2M1057.8 351.3V347.7M1057.8 175.2V178.8M1068 351.3V347.7M1068 175.2V178.8M1078.2 351.3V347.7M1078.2 175.2V178.8M1088.4 351.3V347.7M1088.4 175.2V178.8M1108.8 351.3V347.7M1108.8 175.2V178.8M1119 351.3V347.7M1119 175.2V178.8M1129.2 351.3V347.7M1129.2 175.2V178.8M1139.4 351.3V347.7M1139.4 175.2V178.8M1159.8 351.3V347.7M1159.8 175.2V178.8M1170 351.3V347.7M1170 175.2V178.8M1180.2 351.3V347.7M1180.2 175.2V178.8M1190.4 351.3V347.7M1190.4 175.2V178.8M1210.8 351.3V347.7M1210.8 175.2V178.8M1221 351.3V347.7M1221 175.2V178.8M1231.2 351.3V347.7M1231.2 175.2V178.8M1241.4 351.3V347.7M1241.4 175.2V178.8M1047.9 314.3H1053.9M1251.3 314.3H1245.3M1047.9 219.2H1053.9M1251.3 219.2H1245.3M1047.9 342.93H1051.5M1251.3 342.93H1247.7M1047.9 335.4H1051.5M1251.3 335.4H1247.7M1047.9 329.03H1051.5M1251.3 329.03H1247.7M1047.9 323.52H1051.5M1251.3 323.52H1247.7M1047.9 318.65H1051.5M1251.3 318.65H1247.7M1047.9 285.67H1051.5M1251.3 285.67H1247.7M1047.9 268.93H1051.5M1251.3 268.93H1247.7M1047.9 257.04H1051.5M1251.3 257.04H1247.7M1047.9 247.83H1051.5M1251.3 247.83H1247.7M1047.9 240.3H1051.5M1251.3 240.3H1247.7M1047.9 233.93H1051.5M1251.3 233.93H1247.7M1047.9 228.42H1051.5M1251.3 228.42H1247.7M1047.9 223.55H1051.5M1251.3 223.55H1247.7M1047.9 190.57H1051.5M1251.3 190.57H1247.7" stroke="#000" stroke-width="1.5" fill="none"/>
<rect x="1047.9" y="175.2" width="203.4" height="176.1" fill="none" stroke="#000" stroke-width="1.7" stroke-linejoin="round"/>
<text x="1043.16" y="373.3" font-size="16">0</text>
<text x="1089.44" y="373.3" font-size="16">10</text>
<g fill="#fff" shape-rendering="crispEdges"><rect x="1090" y="371.25" width="2.96" height="2.95"/><rect x="1095.38" y="371.25" width="2.62" height="2.95"/></g>
<text x="1140.64" y="373.3" font-size="16">20</text>
<text x="1191.72" y="373.3" font-size="16">30</text>
<text x="1242.84" y="373.3" font-size="16">40</text>
<text x="1009.77" y="223.4" font-size="16.2">10</text>
<g fill="#fff" shape-rendering="crispEdges"><rect x="1010.33" y="221.34" width="3.01" height="2.96"/><rect x="1015.77" y="221.34" width="2.66" height="2.96"/></g>
<text x="1027.8" y="214.4" font-size="10">−7</text>
<text x="1009.77" y="318.5" font-size="16.2">10</text>
<g fill="#fff" shape-rendering="crispEdges"><rect x="1010.33" y="316.44" width="3.01" height="2.96"/><rect x="1015.77" y="316.44" width="2.66" height="2.96"/></g>
<text x="1027.8" y="309.5" font-size="10">−8</text>
<text x="1133.02" y="397.7" font-size="16.5" font-style="italic">T</text>
<text x="1147.14" y="397.7" font-size="16">(K)</text>
<text x="1080.6" y="223.6" font-size="16">14 T</text>
<g fill="#fff" shape-rendering="crispEdges"><rect x="1081.16" y="221.55" width="2.96" height="2.95"/><rect x="1086.54" y="221.55" width="2.62" height="2.95"/></g>
<text x="1083.36" y="315.5" font-size="16">0 T</text>
<g transform="translate(993.3,257) rotate(-90)"><text x="0" y="0" font-size="17" text-anchor="middle"><tspan font-family='"Liberation Serif", serif' font-style="italic">ρ</tspan><tspan font-size="12" dy="4.5">xx</tspan><tspan dy="-4.5"> (Ωcm)</tspan></text></g>
<text x="-0.78" y="590" font-size="42" font-weight="bold">c</text>
<path d="M161.9 846.8V889.4M157.1 846.8H166.7M157.1 889.4H166.7M170 859V898.6M165.2 859H174.8M165.2 898.6H174.8M176.1 864.2V902.6M171.3 864.2H180.9M171.3 902.6H180.9M167 869.2V905.8M162.2 869.2H171.8M162.2 905.8H171.8M167.5 902.4V930.2M162.7 902.4H172.3M162.7 930.2H172.3M183.3 751.7V822.5M178.5 751.7H188.1M178.5 822.5H188.1M185.5 751.7V822.5M180.7 751.7H190.3M180.7 822.5H190.3M192.3 798.4V856M187.5 798.4H197.1M187.5 856H197.1M199.2 618.3V726.9M194.4 618.3H204M194.4 726.9H204M197.5 643.5V745.5M192.7 643.5H202.3M192.7 745.5H202.3M205.5 720.5V799.5M200.7 720.5H210.3M200.7 799.5H210.3M228 611.7V721.5M223.2 611.7H232.8M223.2 721.5H232.8M295.4 651.8V751M290.6 651.8H300.2M290.6 751H300.2M438.5 663V759M433.7 663H443.3M433.7 759H443.3M570.1 659.4V756.4M565.3 659.4H574.9M565.3 756.4H574.9M573.3 675.5V768.1M568.5 675.5H578.1M568.5 768.1H578.1" stroke="#6a3cff" stroke-width="1.1" fill="none"/>
<path d="M161.9 855.6l12.5 12.5l-12.5 12.5l-12.5 -12.5zM170 866.3l12.5 12.5l-12.5 12.5l-12.5 -12.5zM176.1 870.9l12.5 12.5l-12.5 12.5l-12.5 -12.5zM167 875l12.5 12.5l-12.5 12.5l-12.5 -12.5zM167.5 903.8l12.5 12.5l-12.5 12.5l-12.5 -12.5zM183.3 774.6l12.5 12.5l-12.5 12.5l-12.5 -12.5zM185.5 774.6l12.5 12.5l-12.5 12.5l-12.5 -12.5zM192.3 814.7l12.5 12.5l-12.5 12.5l-12.5 -12.5zM199.2 660.1l12.5 12.5l-12.5 12.5l-12.5 -12.5zM197.5 682l12.5 12.5l-12.5 12.5l-12.5 -12.5zM205.5 747.5l12.5 12.5l-12.5 12.5l-12.5 -12.5zM228 654.1l12.5 12.5l-12.5 12.5l-12.5 -12.5zM295.4 688.9l12.5 12.5l-12.5 12.5l-12.5 -12.5zM438.5 698.5l12.5 12.5l-12.5 12.5l-12.5 -12.5zM570.1 695.4l12.5 12.5l-12.5 12.5l-12.5 -12.5zM573.3 709.3l12.5 12.5l-12.5 12.5l-12.5 -12.5z" fill="#4400ff"/>
<line x1="112.5" y1="721.6" x2="592.6" y2="721.6" stroke="#666" stroke-width="1" stroke-dasharray="3.1 2.75"/>
<path d="M126.5 998.2V989.2M126.5 583.5V592.5M277.27 998.2V989.2M277.27 583.5V592.5M428.04 998.2V989.2M428.04 583.5V592.5M578.81 998.2V989.2M578.81 583.5V592.5M156.65 998.2V993.9M156.65 583.5V587.8M186.81 998.2V993.9M186.81 583.5V587.8M216.96 998.2V993.9M216.96 583.5V587.8M247.12 998.2V993.9M247.12 583.5V587.8M307.42 998.2V993.9M307.42 583.5V587.8M337.58 998.2V993.9M337.58 583.5V587.8M367.73 998.2V993.9M367.73 583.5V587.8M397.89 998.2V993.9M397.89 583.5V587.8M458.19 998.2V993.9M458.19 583.5V587.8M488.35 998.2V993.9M488.35 583.5V587.8M518.5 998.2V993.9M518.5 583.5V587.8M548.66 998.2V993.9M548.66 583.5V587.8M111.5 998.2H120.5M593.6 998.2H584.6M111.5 859.9H120.5M593.6 859.9H584.6M111.5 721.6H120.5M593.6 721.6H584.6M111.5 583.3H120.5M593.6 583.3H584.6M111.5 970.54H115.8M593.6 970.54H589.3M111.5 942.88H115.8M593.6 942.88H589.3M111.5 915.22H115.8M593.6 915.22H589.3M111.5 887.56H115.8M593.6 887.56H589.3M111.5 832.24H115.8M593.6 832.24H589.3M111.5 804.58H115.8M593.6 804.58H589.3M111.5 776.92H115.8M593.6 776.92H589.3M111.5 749.26H115.8M593.6 749.26H589.3M111.5 693.94H115.8M593.6 693.94H589.3M111.5 666.28H115.8M593.6 666.28H589.3M111.5 638.62H115.8M593.6 638.62H589.3M111.5 610.96H115.8M593.6 610.96H589.3" stroke="#000" stroke-width="2.1" fill="none"/>
<rect x="111.5" y="583.5" width="482.1" height="414.7" fill="none" stroke="#000" stroke-width="2.3" stroke-linejoin="round"/>
<text x="118.35" y="1032.7" font-size="29.3">0</text>
<text x="252.83" y="1032.7" font-size="29.3">100</text>
<g fill="#fff" shape-rendering="crispEdges"><rect x="253.85" y="1029.66" width="5.84" height="3.94"/><rect x="263.28" y="1029.66" width="5.22" height="3.94"/></g>
<text x="403.6" y="1032.7" font-size="29.3">200</text>
<text x="554.37" y="1032.7" font-size="29.3">300</text>
<text x="58.15" y="1007.4" font-size="29.3">0.0</text>
<text x="58.15" y="869.1" font-size="29.3">0.5</text>
<text x="58.15" y="730.8" font-size="29.3">1.0</text>
<g fill="#fff" shape-rendering="crispEdges"><rect x="59.17" y="727.76" width="5.84" height="3.94"/><rect x="68.6" y="727.76" width="5.22" height="3.94"/></g>
<text x="58.15" y="592.5" font-size="29.3">1.5</text>
<g fill="#fff" shape-rendering="crispEdges"><rect x="59.17" y="589.46" width="5.84" height="3.94"/><rect x="68.6" y="589.46" width="5.22" height="3.94"/></g>
<text x="486.53" y="631.7" font-size="26">S3</text>
<text x="321.8" y="1074.6" font-size="30" font-style="italic">T</text>
<text x="346.36" y="1074.6" font-size="29">(K)</text>
<g transform="translate(24.3,790.1) rotate(-90)"><text x="0" y="0" font-size="30" text-anchor="middle" font-style="italic">L/L<tspan font-size="21" dy="8" font-style="normal">0</tspan></text></g>
<text x="666.52" y="589.9" font-size="42" font-weight="bold">d</text>
<polyline points="810.12,628.73 822.18,628.73 837.26,633.25 852.34,658.31 867.42,693.63 882.5,725.49 912.66,770.5 957.9,815.73 1033.3,875.76 1108.7,900.83 1184.1,918.81 1259.5,958.02" fill="none" stroke="#800000" stroke-width="1.2"/>
<g fill="#800000" stroke="#800000" stroke-width="0"><circle cx="810.12" cy="628.73" r="5.7"/><circle cx="822.18" cy="628.73" r="5.7"/><circle cx="837.26" cy="633.25" r="5.7"/><circle cx="852.34" cy="658.31" r="5.7"/><circle cx="867.42" cy="693.63" r="5.7"/><circle cx="882.5" cy="725.49" r="5.7"/><circle cx="912.66" cy="770.5" r="5.7"/><circle cx="957.9" cy="815.73" r="5.7"/><circle cx="1033.3" cy="875.76" r="5.7"/><circle cx="1108.7" cy="900.83" r="5.7"/><circle cx="1184.1" cy="918.81" r="5.7"/><circle cx="1259.5" cy="958.02" r="5.7"/></g>
<path d="M807.1 998.2V989.2M807.1 583.6V592.6M957.9 998.2V989.2M957.9 583.6V592.6M1108.7 998.2V989.2M1108.7 583.6V592.6M1259.5 998.2V989.2M1259.5 583.6V592.6M837.26 998.2V993.9M837.26 583.6V587.9M867.42 998.2V993.9M867.42 583.6V587.9M897.58 998.2V993.9M897.58 583.6V587.9M927.74 998.2V993.9M927.74 583.6V587.9M988.06 998.2V993.9M988.06 583.6V587.9M1018.22 998.2V993.9M1018.22 583.6V587.9M1048.38 998.2V993.9M1048.38 583.6V587.9M1078.54 998.2V993.9M1078.54 583.6V587.9M1138.86 998.2V993.9M1138.86 583.6V587.9M1169.02 998.2V993.9M1169.02 583.6V587.9M1199.18 998.2V993.9M1199.18 583.6V587.9M1229.34 998.2V993.9M1229.34 583.6V587.9M792.5 944.9H801.5M1274.5 944.9H1265.5M792.5 844.6H801.5M1274.5 844.6H1265.5M792.5 744.3H801.5M1274.5 744.3H1265.5M792.5 644H801.5M1274.5 644H1265.5M792.5 984.81H796.8M1274.5 984.81H1270.2M792.5 975.09H796.8M1274.5 975.09H1270.2M792.5 967.15H796.8M1274.5 967.15H1270.2M792.5 960.44H796.8M1274.5 960.44H1270.2M792.5 954.62H796.8M1274.5 954.62H1270.2M792.5 949.49H796.8M1274.5 949.49H1270.2M792.5 914.71H796.8M1274.5 914.71H1270.2M792.5 897.04H796.8M1274.5 897.04H1270.2M792.5 884.51H796.8M1274.5 884.51H1270.2M792.5 874.79H796.8M1274.5 874.79H1270.2M792.5 866.85H796.8M1274.5 866.85H1270.2M792.5 860.14H796.8M1274.5 860.14H1270.2M792.5 854.32H796.8M1274.5 854.32H1270.2M792.5 849.19H796.8M1274.5 849.19H1270.2M792.5 814.41H796.8M1274.5 814.41H1270.2M792.5 796.74H796.8M1274.5 796.74H1270.2M792.5 784.21H796.8M1274.5 784.21H1270.2M792.5 774.49H796.8M1274.5 774.49H1270.2M792.5 766.55H796.8M1274.5 766.55H1270.2M792.5 759.84H796.8M1274.5 759.84H1270.2M792.5 754.02H796.8M1274.5 754.02H1270.2M792.5 748.89H796.8M1274.5 748.89H1270.2M792.5 714.11H796.8M1274.5 714.11H1270.2M792.5 696.44H796.8M1274.5 696.44H1270.2M792.5 683.91H796.8M1274.5 683.91H1270.2M792.5 674.19H796.8M1274.5 674.19H1270.2M792.5 666.25H796.8M1274.5 666.25H1270.2M792.5 659.54H796.8M1274.5 659.54H1270.2M792.5 653.72H796.8M1274.5 653.72H1270.2M792.5 648.59H796.8M1274.5 648.59H1270.2M792.5 613.81H796.8M1274.5 613.81H1270.2M792.5 596.14H796.8M1274.5 596.14H1270.2" stroke="#000" stroke-width="2.1" fill="none"/>
<rect x="792.5" y="583.6" width="482" height="414.6" fill="none" stroke="#000" stroke-width="2.3" stroke-linejoin="round"/>
<text x="798.95" y="1032.7" font-size="29.3">0</text>
<text x="933.46" y="1032.7" font-size="29.3">100</text>
<g fill="#fff" shape-rendering="crispEdges"><rect x="934.48" y="1029.66" width="5.84" height="3.94"/><rect x="943.91" y="1029.66" width="5.22" height="3.94"/></g>
<text x="1084.26" y="1032.7" font-size="29.3">200</text>
<text x="1235.06" y="1032.7" font-size="29.3">300</text>
<text x="733.25" y="651.2" font-size="29.3">10</text>
<g fill="#fff" shape-rendering="crispEdges"><rect x="734.27" y="648.16" width="5.84" height="3.94"/><rect x="743.71" y="648.16" width="5.22" height="3.94"/></g>
<text x="765.59" y="638.7" font-size="20.5">4</text>
<text x="733.25" y="751.5" font-size="29.3">10</text>
<g fill="#fff" shape-rendering="crispEdges"><rect x="734.27" y="748.46" width="5.84" height="3.94"/><rect x="743.71" y="748.46" width="5.22" height="3.94"/></g>
<text x="765.28" y="739" font-size="20.5">3</text>
<text x="733.25" y="851.8" font-size="29.3">10</text>
<g fill="#fff" shape-rendering="crispEdges"><rect x="734.27" y="848.76" width="5.84" height="3.94"/><rect x="743.71" y="848.76" width="5.22" height="3.94"/></g>
<text x="765.08" y="839.3" font-size="20.5">2</text>
<text x="733.25" y="952.1" font-size="29.3">10</text>
<g fill="#fff" shape-rendering="crispEdges"><rect x="734.27" y="949.06" width="5.84" height="3.94"/><rect x="743.71" y="949.06" width="5.22" height="3.94"/></g>
<text x="764.56" y="939.6" font-size="20.5">1</text>
<g fill="#fff" shape-rendering="crispEdges"><rect x="765.28" y="937.22" width="3.94" height="3.28"/><rect x="772.03" y="937.22" width="3.5" height="3.28"/></g>
<text x="871.17" y="936.9" font-size="26">V2</text>
<text x="1002.8" y="1075.3" font-size="30" font-style="italic">T</text>
<text x="1027.36" y="1075.3" font-size="29">(K)</text>
<g transform="translate(696,791) rotate(-90)"><text x="0" y="0" font-size="29.3" text-anchor="middle"><tspan font-family='"Liberation Serif", serif' font-style="italic">μ</tspan> (cm<tspan font-size="20.5" dy="-11">2</tspan><tspan dy="11">/Vs)</tspan></text></g>
<polygon points="1042.7,641.5 1122.9,684.9 1122.9,781 1043.1,822.4 965.4,779.4 964.9,681.5" fill="none" stroke="#000" stroke-width="1.3"/>
<line x1="1042.7" y1="731" x2="1042.7" y2="618" stroke="#000" stroke-width="1.5"/>
<line x1="1042.7" y1="731" x2="1143" y2="731" stroke="#000" stroke-width="1.5"/>
<path d="M1042.7 613.5L1047.9 627L1042.7 623.5L1037.5 627z" fill="#000"/>
<path d="M1149 731L1135.5 725.8L1139 731L1135.5 736.2z" fill="#000"/>
<circle cx="1042.7" cy="731" r="11.6" fill="none" stroke="#000" stroke-width="1.3"/>
<circle cx="1042.7" cy="731" r="4.4" fill="#000"/>
<text x="1056.23" y="625" font-size="20.5" font-style="italic">ŷ</text>
<text x="1066.07" y="625" font-size="20.5">[0110]</text>
<g fill="#fff" shape-rendering="crispEdges"><rect x="1083.88" y="622.62" width="3.94" height="3.28"/><rect x="1090.63" y="622.62" width="3.5" height="3.28"/><rect x="1093.76" y="622.62" width="3.94" height="3.28"/><rect x="1100.51" y="622.62" width="3.5" height="3.28"/></g>
<line x1="1098" y1="606.5" x2="1108.2" y2="606.5" stroke="#000" stroke-width="1.3"/>
<text x="1155.42" y="738.5" font-size="20.5" font-style="italic">x̂</text>
<text x="1166.66" y="738.5" font-size="20.5">[2110]</text>
<g fill="#fff" shape-rendering="crispEdges"><rect x="1184.48" y="736.12" width="3.94" height="3.28"/><rect x="1191.23" y="736.12" width="3.5" height="3.28"/><rect x="1194.36" y="736.12" width="3.94" height="3.28"/><rect x="1201.11" y="736.12" width="3.5" height="3.28"/></g>
<line x1="1186.2" y1="720.8" x2="1196.4" y2="720.8" stroke="#000" stroke-width="1.3"/>
<line x1="1198.6" y1="720.8" x2="1208.8" y2="720.8" stroke="#000" stroke-width="1.3"/>
<text x="1007.4" y="766.6" font-size="20.5" font-style="italic">ẑ</text>
<text x="1019.77" y="766.6" font-size="20.5">[0001]</text>
<g fill="#fff" shape-rendering="crispEdges"><rect x="1060.38" y="764.22" width="3.94" height="3.28"/><rect x="1067.13" y="764.22" width="3.5" height="3.28"/></g>
</svg>
</body></html>
